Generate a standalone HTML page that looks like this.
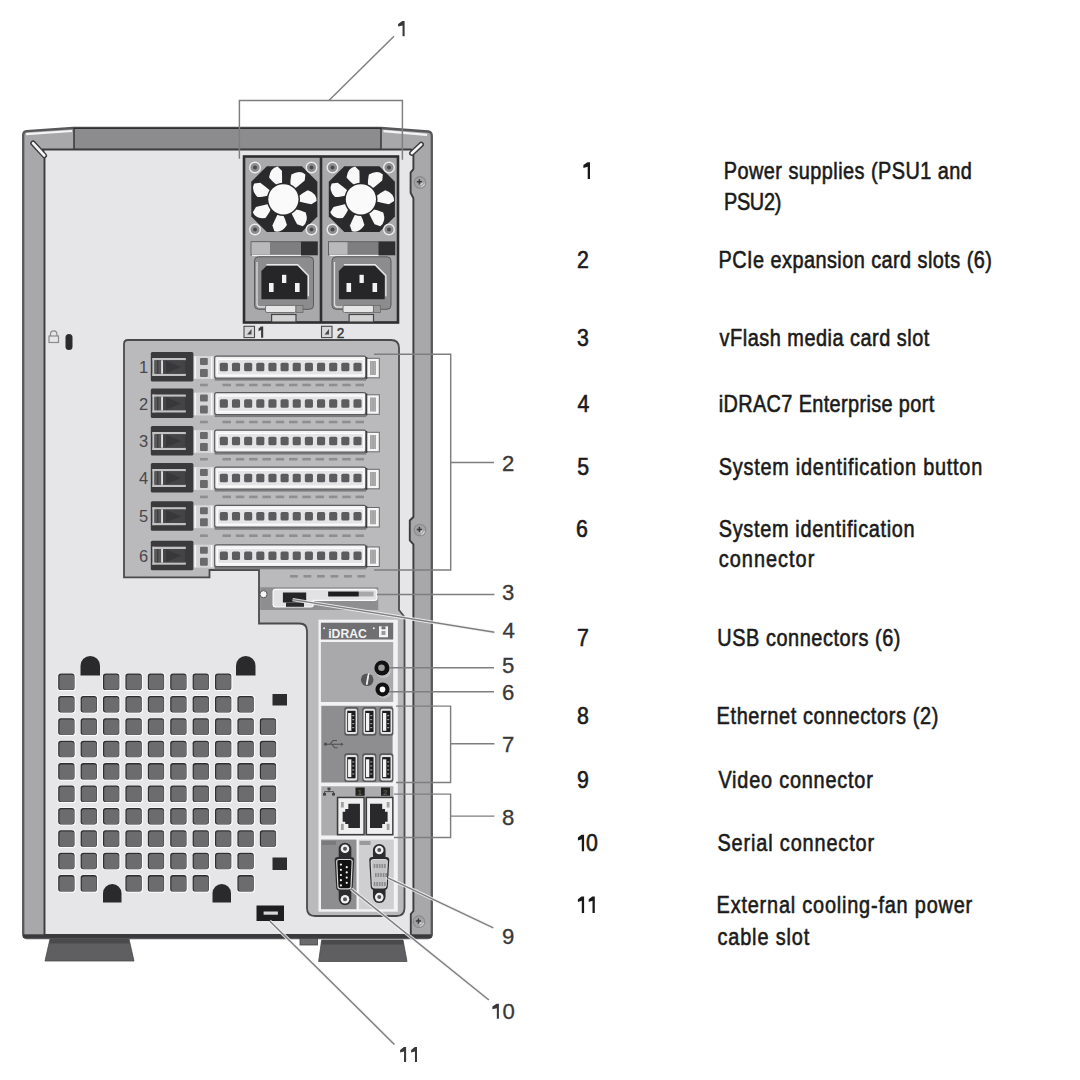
<!DOCTYPE html>
<html><head><meta charset="utf-8"><title>Server back panel</title>
<style>
html,body{margin:0;padding:0;background:#fff;}
svg{display:block;}
</style></head>
<body>
<svg width="1080" height="1080" viewBox="0 0 1080 1080">
<rect width="1080" height="1080" fill="#ffffff"/>
<path d="M23.2,135 Q23.2,131.6 26.6,131.2 L73,128 L381,128 L428,131.5 Q431.8,132 431.8,136 L431.8,934 Q431.8,938 428,938 L26.6,938 Q23.2,938 23.2,934 Z" fill="#a8a8aa" stroke="#58585a" stroke-width="2.3"/>
<rect x="74" y="128.3" width="307" height="21.3" fill="#8c8c8e" stroke="#303032" stroke-width="1.4"/>
<path d="M26,134.2 L72,131" stroke="#f4f4f4" stroke-width="2.2" fill="none"/>
<path d="M383.5,131.2 L427,134.8" stroke="#f4f4f4" stroke-width="2.2" fill="none"/>
<path d="M44.5,935 L44.5,157 L43,149.5 L411,149.5 L413.4,155.3 L413.4,169.2 L410.6,172.6 L410.6,192.8 L413.4,198.3 L413.4,517 L409.8,520.5 L409.8,540.5 L413.4,544.4 L413.4,911 L410.8,914 L410.8,935 Z" fill="#e6e6e8" stroke="#3c3c3e" stroke-width="1.9"/>
<path d="M33,143.2 L44.3,155.5" stroke="#3c3c3e" stroke-width="5.5" stroke-linecap="round"/>
<path d="M33,143.2 L44.3,155.5" stroke="#f6f6f6" stroke-width="2.6" stroke-linecap="round"/>
<path d="M421.2,144.4 L411.8,153.2" stroke="#3c3c3e" stroke-width="5.5" stroke-linecap="round"/>
<path d="M421.2,144.4 L411.8,153.2" stroke="#f6f6f6" stroke-width="2.6" stroke-linecap="round"/>
<rect x="23" y="934.3" width="408.5" height="3.6" fill="#3a3a3c"/>
<circle cx="420" cy="182.4" r="5.8" fill="#a2a2a4" stroke="#8a8a8c" stroke-width="1.1"/>
<path d="M421.2,187.0 A4.8,4.8 0 0 0 424.6,183.6" stroke="#d6d6d8" stroke-width="1.2" fill="none"/>
<path d="M416.8,181.8 L422,181.8 M419.4,179.20000000000002 L419.4,184.4" stroke="#3a3a3c" stroke-width="1.5"/>
<path d="M420.6,184.8 L422.4,183.0" stroke="#e0e0e0" stroke-width="1.1"/>
<circle cx="420" cy="530" r="5.8" fill="#a2a2a4" stroke="#8a8a8c" stroke-width="1.1"/>
<path d="M421.2,534.6 A4.8,4.8 0 0 0 424.6,531.2" stroke="#d6d6d8" stroke-width="1.2" fill="none"/>
<path d="M416.8,529.4 L422,529.4 M419.4,526.8 L419.4,532" stroke="#3a3a3c" stroke-width="1.5"/>
<path d="M420.6,532.4 L422.4,530.6" stroke="#e0e0e0" stroke-width="1.1"/>
<circle cx="419" cy="921.7" r="5.8" fill="#a2a2a4" stroke="#8a8a8c" stroke-width="1.1"/>
<path d="M420.2,926.3000000000001 A4.8,4.8 0 0 0 423.6,922.9000000000001" stroke="#d6d6d8" stroke-width="1.2" fill="none"/>
<path d="M415.8,921.1 L421,921.1 M418.4,918.5 L418.4,923.7" stroke="#3a3a3c" stroke-width="1.5"/>
<path d="M419.6,924.1 L421.4,922.3000000000001" stroke="#e0e0e0" stroke-width="1.1"/>
<path d="M50,939 L129,939 L134,961 L45,961 Z" fill="#5f5f61" stroke="#4a4a4c" stroke-width="0.8"/>
<path d="M321.7,940 L403,940 L407,961.5 L318.6,961.5 Z" fill="#5f5f61" stroke="#4a4a4c" stroke-width="0.8"/>
<rect x="300" y="938.5" width="17.5" height="6.5" fill="#6a6a6c" stroke="#444" stroke-width="0.8"/>
<path d="M50.5,939 L128.5,939 L129.6,943.5 L49.4,943.5 Z" fill="#4a4a4c"/>
<path d="M322,940 L402.7,940 L403.7,944.5 L321.2,944.5 Z" fill="#4a4a4c"/>
<path d="M50.5,336 L50.5,334 A3.2,3.2 0 0 1 56.9,334 L56.9,336" fill="none" stroke="#8a8a8a" stroke-width="1.2"/>
<rect x="49" y="336" width="9.5" height="6.5" fill="none" stroke="#8a8a8a" stroke-width="1.2"/>
<rect x="65.5" y="334" width="7" height="16" rx="3.5" fill="#2c2c2c"/>
<rect x="244" y="156.5" width="154" height="166" fill="#a9a9ab" stroke="#2e2e30" stroke-width="2.6"/>
<line x1="321" y1="156.5" x2="321" y2="322.5" stroke="#2e2e30" stroke-width="2.6"/>
<path d="M266.8,166.3 L301.9,166.3 L317.4,181.8 L317.4,216.5 L301.9,232 L266.8,232 L251.3,216.5 L251.3,181.8 Z" fill="#2a2a2c"/>
<path d="M277.10,185.14 Q273.61,183.01 269.05,177.62 Q270.12,168.00 277.63,166.60 L281.91,170.84 Q282.18,179.34 282.05,183.86 Z" fill="#f8f8f8"/>
<path d="M290.54,185.54 Q290.03,181.50 291.40,174.56 Q299.59,169.40 305.37,174.41 L304.72,180.39 Q298.25,185.90 294.63,188.62 Z" fill="#f8f8f8"/>
<path d="M298.61,196.31 Q301.46,193.38 307.73,190.14 Q316.87,193.31 316.56,200.96 L311.48,204.18 Q303.13,202.55 298.75,201.42 Z" fill="#f8f8f8"/>
<path d="M295.22,209.32 Q299.28,209.73 305.74,212.61 Q308.95,221.74 302.78,226.26 L297.09,224.30 Q293.16,216.76 291.32,212.63 Z" fill="#f8f8f8"/>
<path d="M282.93,214.79 Q285.15,218.22 286.92,225.06 Q281.79,233.26 274.40,231.26 L272.39,225.59 Q275.84,217.81 277.92,213.80 Z" fill="#f8f8f8"/>
<path d="M271.00,208.60 Q269.70,212.46 265.45,218.11 Q255.84,219.21 252.81,212.19 L255.98,207.08 Q264.21,204.93 268.65,204.05 Z" fill="#f8f8f8"/>
<path d="M268.40,195.40 Q264.57,196.79 257.50,197.00 Q250.65,190.17 254.25,183.42 L260.22,182.72 Q267.03,187.81 270.49,190.73 Z" fill="#f8f8f8"/>
<circle cx="283.4" cy="199.3" r="16.6" fill="#2a2a2c"/>
<circle cx="283.4" cy="199.3" r="15.1" fill="#fafafa"/>
<circle cx="255" cy="167.5" r="5.3" fill="#8e8e90" stroke="#ececec" stroke-width="1.4"/>
<circle cx="255" cy="167.5" r="2" fill="#4a4a4c"/>
<circle cx="311.5" cy="167.5" r="5.3" fill="#8e8e90" stroke="#ececec" stroke-width="1.4"/>
<circle cx="311.5" cy="167.5" r="2" fill="#4a4a4c"/>
<circle cx="255" cy="229.5" r="5.3" fill="#8e8e90" stroke="#ececec" stroke-width="1.4"/>
<circle cx="255" cy="229.5" r="2" fill="#4a4a4c"/>
<circle cx="311.5" cy="229.5" r="5.3" fill="#8e8e90" stroke="#ececec" stroke-width="1.4"/>
<circle cx="311.5" cy="229.5" r="2" fill="#4a4a4c"/>
<rect x="251" y="241.7" width="66.5" height="13.3" fill="#7e7e80" stroke="#58585a" stroke-width="0.8"/>
<rect x="251.5" y="242.2" width="18.5" height="12.3" fill="#b9b9bb"/>
<rect x="301" y="241.7" width="16.5" height="13.3" fill="#2e2e30"/>
<line x1="252" y1="255.3" x2="301" y2="255.3" stroke="#f0f0f0" stroke-width="1.2"/>
<rect x="254.5" y="256.8" width="59" height="52.5" rx="4" fill="#8c8c8e" stroke="#5a5a5c" stroke-width="1"/>
<path d="M257,262 L257,304 Q257,307 260,307 L268,307" fill="none" stroke="#dedede" stroke-width="1.3"/>
<path d="M266.4,266 L297.7,266 L307.2,276 L307.2,299.2 L261.4,299.2 L261.4,271 Z" fill="#262628"/>
<path d="M266.4,264.7 L297.7,264.7 L308.4,275.5 L308.4,296.2" fill="none" stroke="#e8e8e8" stroke-width="1.3"/>
<rect x="282" y="274.8" width="4.3" height="8.2" fill="#f2f2f2"/>
<rect x="269" y="283" width="4.6" height="9" fill="#f2f2f2"/>
<rect x="295" y="283" width="4.6" height="9" fill="#f2f2f2"/>
<rect x="265.5" y="305.4" width="30.5" height="7.1" rx="1.5" fill="#e6e6e6" stroke="#6a6a6a" stroke-width="0.9"/>
<rect x="296" y="305.4" width="7" height="7.1" fill="#9a9a9a" stroke="#6a6a6a" stroke-width="0.8"/>
<rect x="271.6" y="314.5" width="24.4" height="7.5" fill="#d2d2d2" stroke="#454545" stroke-width="1.2"/>
<rect x="244" y="326.3" width="10.5" height="11.3" fill="#d8d8da" stroke="#4a4a4c" stroke-width="1.1"/>
<path d="M247,334.5 L251.5,329 L251.5,334.5 Z" fill="#4a4a4c"/>
<path d="M263.20,326.60 L263.20,337.80 L261.10,337.80 L261.10,330.02 L258.60,331.18 L258.60,328.45 L260.90,326.60 Z" fill="#3a3a3c"/>
<path d="M344.3,166.3 L379.4,166.3 L394.9,181.8 L394.9,216.5 L379.4,232 L344.3,232 L328.8,216.5 L328.8,181.8 Z" fill="#2a2a2c"/>
<path d="M354.60,185.14 Q351.11,183.01 346.55,177.62 Q347.62,168.00 355.13,166.60 L359.41,170.84 Q359.68,179.34 359.55,183.86 Z" fill="#f8f8f8"/>
<path d="M368.04,185.54 Q367.53,181.50 368.90,174.56 Q377.09,169.40 382.87,174.41 L382.22,180.39 Q375.75,185.90 372.13,188.62 Z" fill="#f8f8f8"/>
<path d="M376.11,196.31 Q378.96,193.38 385.23,190.14 Q394.37,193.31 394.06,200.96 L388.98,204.18 Q380.63,202.55 376.25,201.42 Z" fill="#f8f8f8"/>
<path d="M372.72,209.32 Q376.78,209.73 383.24,212.61 Q386.45,221.74 380.28,226.26 L374.59,224.30 Q370.66,216.76 368.82,212.63 Z" fill="#f8f8f8"/>
<path d="M360.43,214.79 Q362.65,218.22 364.42,225.06 Q359.29,233.26 351.90,231.26 L349.89,225.59 Q353.34,217.81 355.42,213.80 Z" fill="#f8f8f8"/>
<path d="M348.50,208.60 Q347.20,212.46 342.95,218.11 Q333.34,219.21 330.31,212.19 L333.48,207.08 Q341.71,204.93 346.15,204.05 Z" fill="#f8f8f8"/>
<path d="M345.90,195.40 Q342.07,196.79 335.00,197.00 Q328.15,190.17 331.75,183.42 L337.72,182.72 Q344.53,187.81 347.99,190.73 Z" fill="#f8f8f8"/>
<circle cx="360.9" cy="199.3" r="16.6" fill="#2a2a2c"/>
<circle cx="360.9" cy="199.3" r="15.1" fill="#fafafa"/>
<circle cx="332.5" cy="167.5" r="5.3" fill="#8e8e90" stroke="#ececec" stroke-width="1.4"/>
<circle cx="332.5" cy="167.5" r="2" fill="#4a4a4c"/>
<circle cx="389.0" cy="167.5" r="5.3" fill="#8e8e90" stroke="#ececec" stroke-width="1.4"/>
<circle cx="389.0" cy="167.5" r="2" fill="#4a4a4c"/>
<circle cx="332.5" cy="229.5" r="5.3" fill="#8e8e90" stroke="#ececec" stroke-width="1.4"/>
<circle cx="332.5" cy="229.5" r="2" fill="#4a4a4c"/>
<circle cx="389.0" cy="229.5" r="5.3" fill="#8e8e90" stroke="#ececec" stroke-width="1.4"/>
<circle cx="389.0" cy="229.5" r="2" fill="#4a4a4c"/>
<rect x="328.5" y="241.7" width="66.5" height="13.3" fill="#7e7e80" stroke="#58585a" stroke-width="0.8"/>
<rect x="329.0" y="242.2" width="18.5" height="12.3" fill="#b9b9bb"/>
<rect x="378.5" y="241.7" width="16.5" height="13.3" fill="#2e2e30"/>
<line x1="329.5" y1="255.3" x2="378.5" y2="255.3" stroke="#f0f0f0" stroke-width="1.2"/>
<rect x="332.0" y="256.8" width="59" height="52.5" rx="4" fill="#8c8c8e" stroke="#5a5a5c" stroke-width="1"/>
<path d="M334.5,262 L334.5,304 Q334.5,307 337.5,307 L345.5,307" fill="none" stroke="#dedede" stroke-width="1.3"/>
<path d="M343.9,266 L375.2,266 L384.7,276 L384.7,299.2 L338.9,299.2 L338.9,271 Z" fill="#262628"/>
<path d="M343.9,264.7 L375.2,264.7 L385.9,275.5 L385.9,296.2" fill="none" stroke="#e8e8e8" stroke-width="1.3"/>
<rect x="359.5" y="274.8" width="4.3" height="8.2" fill="#f2f2f2"/>
<rect x="346.5" y="283" width="4.6" height="9" fill="#f2f2f2"/>
<rect x="372.5" y="283" width="4.6" height="9" fill="#f2f2f2"/>
<rect x="343.0" y="305.4" width="30.5" height="7.1" rx="1.5" fill="#e6e6e6" stroke="#6a6a6a" stroke-width="0.9"/>
<rect x="373.5" y="305.4" width="7" height="7.1" fill="#9a9a9a" stroke="#6a6a6a" stroke-width="0.8"/>
<rect x="349.1" y="314.5" width="24.4" height="7.5" fill="#d2d2d2" stroke="#454545" stroke-width="1.2"/>
<rect x="321.5" y="326.3" width="10.5" height="11.3" fill="#d8d8da" stroke="#4a4a4c" stroke-width="1.1"/>
<path d="M324.5,334.5 L329.0,329 L329.0,334.5 Z" fill="#4a4a4c"/>
<text x="336.8" y="337.8" font-family='"Liberation Sans", sans-serif' font-size="15.5" fill="#3a3a3c" stroke="#3a3a3c" stroke-width="0.5" transform="translate(336.8 0) scale(0.88 1) translate(-336.8 0)">2</text>
<path d="M124,344 Q124,340 128,340 L391,340 Q399,340 399,348 L399,610 L404.5,617 L404.5,908 Q404.5,916 396.5,916 L315,916 Q307,916 307,908 L307,631 Q307,623.5 299.5,623.5 L259,623.5 L259,570 L209.5,570 L209.5,577.3 L124,577.3 Z" fill="#bababc" stroke="#4a4a4c" stroke-width="1.8"/>
<text x="139" y="373" font-family='"Liberation Sans", sans-serif' font-size="16.5" fill="#48484a">1</text>
<rect x="150.8" y="352" width="42.6" height="29.5" rx="1.5" fill="#3a3a3c"/>
<rect x="152.4" y="358" width="33.4" height="2.3" fill="#c2c2c4"/>
<rect x="152.4" y="373.7" width="33.4" height="2.3" fill="#c2c2c4"/>
<rect x="152.4" y="358" width="2" height="18" fill="#c2c2c4"/>
<rect x="154.7" y="360.3" width="6.2" height="13.4" fill="#58585a"/>
<line x1="157.8" y1="360.3" x2="157.8" y2="373.7" stroke="#38383a" stroke-width="1"/>
<rect x="161.1" y="360.3" width="1.9" height="13.4" fill="#dedede"/>
<rect x="163" y="360.3" width="22" height="13.4" fill="#444446"/>
<path d="M166,360.8 L181,367 L166,373.2 Z" fill="#38383a"/>
<rect x="193.8" y="356" width="20" height="23" fill="#d6d6d8"/>
<line x1="195.3" y1="356.5" x2="195.3" y2="378.5" stroke="#f6f6f6" stroke-width="1.5"/>
<line x1="211.6" y1="356.5" x2="211.6" y2="378.5" stroke="#f6f6f6" stroke-width="1.5"/>
<rect x="200" y="358" width="7.8" height="7" rx="1" fill="#6a6a6c"/>
<rect x="200" y="369" width="7.8" height="8" rx="1" fill="#6a6a6c"/>
<rect x="214.7" y="378" width="151.5" height="2.6" fill="#7c7c7e"/>
<rect x="214.7" y="356.2" width="151.2" height="21.8" rx="2" fill="#f2f2f2" stroke="#5a5a5c" stroke-width="1.2"/>
<rect x="217.5" y="359.5" width="146" height="15.5" rx="1.5" fill="#e4e4e6" stroke="#ffffff" stroke-width="1"/>
<rect x="219.80" y="362.8" width="8.1" height="8.5" rx="1.5" fill="#5c5c5e"/>
<rect x="231.95" y="362.8" width="8.1" height="8.5" rx="1.5" fill="#5c5c5e"/>
<rect x="244.10" y="362.8" width="8.1" height="8.5" rx="1.5" fill="#5c5c5e"/>
<rect x="256.25" y="362.8" width="8.1" height="8.5" rx="1.5" fill="#5c5c5e"/>
<rect x="268.40" y="362.8" width="8.1" height="8.5" rx="1.5" fill="#5c5c5e"/>
<rect x="280.55" y="362.8" width="8.1" height="8.5" rx="1.5" fill="#5c5c5e"/>
<rect x="292.70" y="362.8" width="8.1" height="8.5" rx="1.5" fill="#5c5c5e"/>
<rect x="304.85" y="362.8" width="8.1" height="8.5" rx="1.5" fill="#5c5c5e"/>
<rect x="317.00" y="362.8" width="8.1" height="8.5" rx="1.5" fill="#5c5c5e"/>
<rect x="329.15" y="362.8" width="8.1" height="8.5" rx="1.5" fill="#5c5c5e"/>
<rect x="341.30" y="362.8" width="8.1" height="8.5" rx="1.5" fill="#5c5c5e"/>
<rect x="353.45" y="362.8" width="8.1" height="8.5" rx="1.5" fill="#5c5c5e"/>
<rect x="366.5" y="358.3" width="12.8" height="19.5" fill="#f6f6f6" stroke="#6a6a6c" stroke-width="1"/>
<rect x="370" y="361" width="6" height="14" fill="#bdbdbd"/>
<line x1="370.7" y1="361" x2="370.7" y2="375" stroke="#8a8a8a" stroke-width="0.6"/>
<line x1="372.2" y1="361" x2="372.2" y2="375" stroke="#8a8a8a" stroke-width="0.6"/>
<line x1="373.7" y1="361" x2="373.7" y2="375" stroke="#8a8a8a" stroke-width="0.6"/>
<line x1="375.2" y1="361" x2="375.2" y2="375" stroke="#8a8a8a" stroke-width="0.6"/>
<line x1="366.5" y1="357" x2="366.5" y2="379" stroke="#3e3e3e" stroke-width="1.6"/>
<rect x="200" y="383.7" width="7.8" height="2.6" fill="#8e8e90"/>
<rect x="222.5" y="383.7" width="8.5" height="2.6" fill="#8e8e90"/>
<rect x="235.8" y="383.7" width="8.5" height="2.6" fill="#8e8e90"/>
<rect x="249.1" y="383.7" width="8.5" height="2.6" fill="#8e8e90"/>
<rect x="262.4" y="383.7" width="8.5" height="2.6" fill="#8e8e90"/>
<rect x="275.7" y="383.7" width="8.5" height="2.6" fill="#8e8e90"/>
<rect x="289.0" y="383.7" width="8.5" height="2.6" fill="#8e8e90"/>
<rect x="302.3" y="383.7" width="8.5" height="2.6" fill="#8e8e90"/>
<rect x="315.6" y="383.7" width="8.5" height="2.6" fill="#8e8e90"/>
<rect x="328.9" y="383.7" width="8.5" height="2.6" fill="#8e8e90"/>
<rect x="342.2" y="383.7" width="8.5" height="2.6" fill="#8e8e90"/>
<rect x="355.5" y="383.7" width="8.5" height="2.6" fill="#8e8e90"/>
<text x="139" y="409.5" font-family='"Liberation Sans", sans-serif' font-size="16.5" fill="#48484a">2</text>
<rect x="150.8" y="388.5" width="42.6" height="29.5" rx="1.5" fill="#3a3a3c"/>
<rect x="152.4" y="394.5" width="33.4" height="2.3" fill="#c2c2c4"/>
<rect x="152.4" y="410.2" width="33.4" height="2.3" fill="#c2c2c4"/>
<rect x="152.4" y="394.5" width="2" height="18" fill="#c2c2c4"/>
<rect x="154.7" y="396.8" width="6.2" height="13.4" fill="#58585a"/>
<line x1="157.8" y1="396.8" x2="157.8" y2="410.2" stroke="#38383a" stroke-width="1"/>
<rect x="161.1" y="396.8" width="1.9" height="13.4" fill="#dedede"/>
<rect x="163" y="396.8" width="22" height="13.4" fill="#444446"/>
<path d="M166,397.3 L181,403.5 L166,409.7 Z" fill="#38383a"/>
<rect x="193.8" y="392.5" width="20" height="23" fill="#d6d6d8"/>
<line x1="195.3" y1="393.0" x2="195.3" y2="415.0" stroke="#f6f6f6" stroke-width="1.5"/>
<line x1="211.6" y1="393.0" x2="211.6" y2="415.0" stroke="#f6f6f6" stroke-width="1.5"/>
<rect x="200" y="394.5" width="7.8" height="7" rx="1" fill="#6a6a6c"/>
<rect x="200" y="405.5" width="7.8" height="8" rx="1" fill="#6a6a6c"/>
<rect x="214.7" y="414.5" width="151.5" height="2.6" fill="#7c7c7e"/>
<rect x="214.7" y="392.7" width="151.2" height="21.8" rx="2" fill="#f2f2f2" stroke="#5a5a5c" stroke-width="1.2"/>
<rect x="217.5" y="396.0" width="146" height="15.5" rx="1.5" fill="#e4e4e6" stroke="#ffffff" stroke-width="1"/>
<rect x="219.80" y="399.3" width="8.1" height="8.5" rx="1.5" fill="#5c5c5e"/>
<rect x="231.95" y="399.3" width="8.1" height="8.5" rx="1.5" fill="#5c5c5e"/>
<rect x="244.10" y="399.3" width="8.1" height="8.5" rx="1.5" fill="#5c5c5e"/>
<rect x="256.25" y="399.3" width="8.1" height="8.5" rx="1.5" fill="#5c5c5e"/>
<rect x="268.40" y="399.3" width="8.1" height="8.5" rx="1.5" fill="#5c5c5e"/>
<rect x="280.55" y="399.3" width="8.1" height="8.5" rx="1.5" fill="#5c5c5e"/>
<rect x="292.70" y="399.3" width="8.1" height="8.5" rx="1.5" fill="#5c5c5e"/>
<rect x="304.85" y="399.3" width="8.1" height="8.5" rx="1.5" fill="#5c5c5e"/>
<rect x="317.00" y="399.3" width="8.1" height="8.5" rx="1.5" fill="#5c5c5e"/>
<rect x="329.15" y="399.3" width="8.1" height="8.5" rx="1.5" fill="#5c5c5e"/>
<rect x="341.30" y="399.3" width="8.1" height="8.5" rx="1.5" fill="#5c5c5e"/>
<rect x="353.45" y="399.3" width="8.1" height="8.5" rx="1.5" fill="#5c5c5e"/>
<rect x="366.5" y="394.8" width="12.8" height="19.5" fill="#f6f6f6" stroke="#6a6a6c" stroke-width="1"/>
<rect x="370" y="397.5" width="6" height="14" fill="#bdbdbd"/>
<line x1="370.7" y1="397.5" x2="370.7" y2="411.5" stroke="#8a8a8a" stroke-width="0.6"/>
<line x1="372.2" y1="397.5" x2="372.2" y2="411.5" stroke="#8a8a8a" stroke-width="0.6"/>
<line x1="373.7" y1="397.5" x2="373.7" y2="411.5" stroke="#8a8a8a" stroke-width="0.6"/>
<line x1="375.2" y1="397.5" x2="375.2" y2="411.5" stroke="#8a8a8a" stroke-width="0.6"/>
<line x1="366.5" y1="393.5" x2="366.5" y2="415.5" stroke="#3e3e3e" stroke-width="1.6"/>
<rect x="200" y="420.7" width="7.8" height="2.6" fill="#8e8e90"/>
<rect x="222.5" y="420.7" width="8.5" height="2.6" fill="#8e8e90"/>
<rect x="235.8" y="420.7" width="8.5" height="2.6" fill="#8e8e90"/>
<rect x="249.1" y="420.7" width="8.5" height="2.6" fill="#8e8e90"/>
<rect x="262.4" y="420.7" width="8.5" height="2.6" fill="#8e8e90"/>
<rect x="275.7" y="420.7" width="8.5" height="2.6" fill="#8e8e90"/>
<rect x="289.0" y="420.7" width="8.5" height="2.6" fill="#8e8e90"/>
<rect x="302.3" y="420.7" width="8.5" height="2.6" fill="#8e8e90"/>
<rect x="315.6" y="420.7" width="8.5" height="2.6" fill="#8e8e90"/>
<rect x="328.9" y="420.7" width="8.5" height="2.6" fill="#8e8e90"/>
<rect x="342.2" y="420.7" width="8.5" height="2.6" fill="#8e8e90"/>
<rect x="355.5" y="420.7" width="8.5" height="2.6" fill="#8e8e90"/>
<text x="139" y="447" font-family='"Liberation Sans", sans-serif' font-size="16.5" fill="#48484a">3</text>
<rect x="150.8" y="426" width="42.6" height="29.5" rx="1.5" fill="#3a3a3c"/>
<rect x="152.4" y="432" width="33.4" height="2.3" fill="#c2c2c4"/>
<rect x="152.4" y="447.7" width="33.4" height="2.3" fill="#c2c2c4"/>
<rect x="152.4" y="432" width="2" height="18" fill="#c2c2c4"/>
<rect x="154.7" y="434.3" width="6.2" height="13.4" fill="#58585a"/>
<line x1="157.8" y1="434.3" x2="157.8" y2="447.7" stroke="#38383a" stroke-width="1"/>
<rect x="161.1" y="434.3" width="1.9" height="13.4" fill="#dedede"/>
<rect x="163" y="434.3" width="22" height="13.4" fill="#444446"/>
<path d="M166,434.8 L181,441 L166,447.2 Z" fill="#38383a"/>
<rect x="193.8" y="430" width="20" height="23" fill="#d6d6d8"/>
<line x1="195.3" y1="430.5" x2="195.3" y2="452.5" stroke="#f6f6f6" stroke-width="1.5"/>
<line x1="211.6" y1="430.5" x2="211.6" y2="452.5" stroke="#f6f6f6" stroke-width="1.5"/>
<rect x="200" y="432" width="7.8" height="7" rx="1" fill="#6a6a6c"/>
<rect x="200" y="443" width="7.8" height="8" rx="1" fill="#6a6a6c"/>
<rect x="214.7" y="452" width="151.5" height="2.6" fill="#7c7c7e"/>
<rect x="214.7" y="430.2" width="151.2" height="21.8" rx="2" fill="#f2f2f2" stroke="#5a5a5c" stroke-width="1.2"/>
<rect x="217.5" y="433.5" width="146" height="15.5" rx="1.5" fill="#e4e4e6" stroke="#ffffff" stroke-width="1"/>
<rect x="219.80" y="436.8" width="8.1" height="8.5" rx="1.5" fill="#5c5c5e"/>
<rect x="231.95" y="436.8" width="8.1" height="8.5" rx="1.5" fill="#5c5c5e"/>
<rect x="244.10" y="436.8" width="8.1" height="8.5" rx="1.5" fill="#5c5c5e"/>
<rect x="256.25" y="436.8" width="8.1" height="8.5" rx="1.5" fill="#5c5c5e"/>
<rect x="268.40" y="436.8" width="8.1" height="8.5" rx="1.5" fill="#5c5c5e"/>
<rect x="280.55" y="436.8" width="8.1" height="8.5" rx="1.5" fill="#5c5c5e"/>
<rect x="292.70" y="436.8" width="8.1" height="8.5" rx="1.5" fill="#5c5c5e"/>
<rect x="304.85" y="436.8" width="8.1" height="8.5" rx="1.5" fill="#5c5c5e"/>
<rect x="317.00" y="436.8" width="8.1" height="8.5" rx="1.5" fill="#5c5c5e"/>
<rect x="329.15" y="436.8" width="8.1" height="8.5" rx="1.5" fill="#5c5c5e"/>
<rect x="341.30" y="436.8" width="8.1" height="8.5" rx="1.5" fill="#5c5c5e"/>
<rect x="353.45" y="436.8" width="8.1" height="8.5" rx="1.5" fill="#5c5c5e"/>
<rect x="366.5" y="432.3" width="12.8" height="19.5" fill="#f6f6f6" stroke="#6a6a6c" stroke-width="1"/>
<rect x="370" y="435" width="6" height="14" fill="#bdbdbd"/>
<line x1="370.7" y1="435" x2="370.7" y2="449" stroke="#8a8a8a" stroke-width="0.6"/>
<line x1="372.2" y1="435" x2="372.2" y2="449" stroke="#8a8a8a" stroke-width="0.6"/>
<line x1="373.7" y1="435" x2="373.7" y2="449" stroke="#8a8a8a" stroke-width="0.6"/>
<line x1="375.2" y1="435" x2="375.2" y2="449" stroke="#8a8a8a" stroke-width="0.6"/>
<line x1="366.5" y1="431" x2="366.5" y2="453" stroke="#3e3e3e" stroke-width="1.6"/>
<rect x="200" y="457.9" width="7.8" height="2.6" fill="#8e8e90"/>
<rect x="222.5" y="457.9" width="8.5" height="2.6" fill="#8e8e90"/>
<rect x="235.8" y="457.9" width="8.5" height="2.6" fill="#8e8e90"/>
<rect x="249.1" y="457.9" width="8.5" height="2.6" fill="#8e8e90"/>
<rect x="262.4" y="457.9" width="8.5" height="2.6" fill="#8e8e90"/>
<rect x="275.7" y="457.9" width="8.5" height="2.6" fill="#8e8e90"/>
<rect x="289.0" y="457.9" width="8.5" height="2.6" fill="#8e8e90"/>
<rect x="302.3" y="457.9" width="8.5" height="2.6" fill="#8e8e90"/>
<rect x="315.6" y="457.9" width="8.5" height="2.6" fill="#8e8e90"/>
<rect x="328.9" y="457.9" width="8.5" height="2.6" fill="#8e8e90"/>
<rect x="342.2" y="457.9" width="8.5" height="2.6" fill="#8e8e90"/>
<rect x="355.5" y="457.9" width="8.5" height="2.6" fill="#8e8e90"/>
<text x="139" y="484" font-family='"Liberation Sans", sans-serif' font-size="16.5" fill="#48484a">4</text>
<rect x="150.8" y="463" width="42.6" height="29.5" rx="1.5" fill="#3a3a3c"/>
<rect x="152.4" y="469" width="33.4" height="2.3" fill="#c2c2c4"/>
<rect x="152.4" y="484.7" width="33.4" height="2.3" fill="#c2c2c4"/>
<rect x="152.4" y="469" width="2" height="18" fill="#c2c2c4"/>
<rect x="154.7" y="471.3" width="6.2" height="13.4" fill="#58585a"/>
<line x1="157.8" y1="471.3" x2="157.8" y2="484.7" stroke="#38383a" stroke-width="1"/>
<rect x="161.1" y="471.3" width="1.9" height="13.4" fill="#dedede"/>
<rect x="163" y="471.3" width="22" height="13.4" fill="#444446"/>
<path d="M166,471.8 L181,478 L166,484.2 Z" fill="#38383a"/>
<rect x="193.8" y="467" width="20" height="23" fill="#d6d6d8"/>
<line x1="195.3" y1="467.5" x2="195.3" y2="489.5" stroke="#f6f6f6" stroke-width="1.5"/>
<line x1="211.6" y1="467.5" x2="211.6" y2="489.5" stroke="#f6f6f6" stroke-width="1.5"/>
<rect x="200" y="469" width="7.8" height="7" rx="1" fill="#6a6a6c"/>
<rect x="200" y="480" width="7.8" height="8" rx="1" fill="#6a6a6c"/>
<rect x="214.7" y="489" width="151.5" height="2.6" fill="#7c7c7e"/>
<rect x="214.7" y="467.2" width="151.2" height="21.8" rx="2" fill="#f2f2f2" stroke="#5a5a5c" stroke-width="1.2"/>
<rect x="217.5" y="470.5" width="146" height="15.5" rx="1.5" fill="#e4e4e6" stroke="#ffffff" stroke-width="1"/>
<rect x="219.80" y="473.8" width="8.1" height="8.5" rx="1.5" fill="#5c5c5e"/>
<rect x="231.95" y="473.8" width="8.1" height="8.5" rx="1.5" fill="#5c5c5e"/>
<rect x="244.10" y="473.8" width="8.1" height="8.5" rx="1.5" fill="#5c5c5e"/>
<rect x="256.25" y="473.8" width="8.1" height="8.5" rx="1.5" fill="#5c5c5e"/>
<rect x="268.40" y="473.8" width="8.1" height="8.5" rx="1.5" fill="#5c5c5e"/>
<rect x="280.55" y="473.8" width="8.1" height="8.5" rx="1.5" fill="#5c5c5e"/>
<rect x="292.70" y="473.8" width="8.1" height="8.5" rx="1.5" fill="#5c5c5e"/>
<rect x="304.85" y="473.8" width="8.1" height="8.5" rx="1.5" fill="#5c5c5e"/>
<rect x="317.00" y="473.8" width="8.1" height="8.5" rx="1.5" fill="#5c5c5e"/>
<rect x="329.15" y="473.8" width="8.1" height="8.5" rx="1.5" fill="#5c5c5e"/>
<rect x="341.30" y="473.8" width="8.1" height="8.5" rx="1.5" fill="#5c5c5e"/>
<rect x="353.45" y="473.8" width="8.1" height="8.5" rx="1.5" fill="#5c5c5e"/>
<rect x="366.5" y="469.3" width="12.8" height="19.5" fill="#f6f6f6" stroke="#6a6a6c" stroke-width="1"/>
<rect x="370" y="472" width="6" height="14" fill="#bdbdbd"/>
<line x1="370.7" y1="472" x2="370.7" y2="486" stroke="#8a8a8a" stroke-width="0.6"/>
<line x1="372.2" y1="472" x2="372.2" y2="486" stroke="#8a8a8a" stroke-width="0.6"/>
<line x1="373.7" y1="472" x2="373.7" y2="486" stroke="#8a8a8a" stroke-width="0.6"/>
<line x1="375.2" y1="472" x2="375.2" y2="486" stroke="#8a8a8a" stroke-width="0.6"/>
<line x1="366.5" y1="468" x2="366.5" y2="490" stroke="#3e3e3e" stroke-width="1.6"/>
<rect x="200" y="495.6" width="7.8" height="2.6" fill="#8e8e90"/>
<rect x="222.5" y="495.6" width="8.5" height="2.6" fill="#8e8e90"/>
<rect x="235.8" y="495.6" width="8.5" height="2.6" fill="#8e8e90"/>
<rect x="249.1" y="495.6" width="8.5" height="2.6" fill="#8e8e90"/>
<rect x="262.4" y="495.6" width="8.5" height="2.6" fill="#8e8e90"/>
<rect x="275.7" y="495.6" width="8.5" height="2.6" fill="#8e8e90"/>
<rect x="289.0" y="495.6" width="8.5" height="2.6" fill="#8e8e90"/>
<rect x="302.3" y="495.6" width="8.5" height="2.6" fill="#8e8e90"/>
<rect x="315.6" y="495.6" width="8.5" height="2.6" fill="#8e8e90"/>
<rect x="328.9" y="495.6" width="8.5" height="2.6" fill="#8e8e90"/>
<rect x="342.2" y="495.6" width="8.5" height="2.6" fill="#8e8e90"/>
<rect x="355.5" y="495.6" width="8.5" height="2.6" fill="#8e8e90"/>
<text x="139" y="522.2" font-family='"Liberation Sans", sans-serif' font-size="16.5" fill="#48484a">5</text>
<rect x="150.8" y="501.2" width="42.6" height="29.5" rx="1.5" fill="#3a3a3c"/>
<rect x="152.4" y="507.2" width="33.4" height="2.3" fill="#c2c2c4"/>
<rect x="152.4" y="522.9" width="33.4" height="2.3" fill="#c2c2c4"/>
<rect x="152.4" y="507.2" width="2" height="18" fill="#c2c2c4"/>
<rect x="154.7" y="509.5" width="6.2" height="13.4" fill="#58585a"/>
<line x1="157.8" y1="509.5" x2="157.8" y2="522.9" stroke="#38383a" stroke-width="1"/>
<rect x="161.1" y="509.5" width="1.9" height="13.4" fill="#dedede"/>
<rect x="163" y="509.5" width="22" height="13.4" fill="#444446"/>
<path d="M166,510.0 L181,516.2 L166,522.4 Z" fill="#38383a"/>
<rect x="193.8" y="505.2" width="20" height="23" fill="#d6d6d8"/>
<line x1="195.3" y1="505.7" x2="195.3" y2="527.7" stroke="#f6f6f6" stroke-width="1.5"/>
<line x1="211.6" y1="505.7" x2="211.6" y2="527.7" stroke="#f6f6f6" stroke-width="1.5"/>
<rect x="200" y="507.2" width="7.8" height="7" rx="1" fill="#6a6a6c"/>
<rect x="200" y="518.2" width="7.8" height="8" rx="1" fill="#6a6a6c"/>
<rect x="214.7" y="527.2" width="151.5" height="2.6" fill="#7c7c7e"/>
<rect x="214.7" y="505.4" width="151.2" height="21.8" rx="2" fill="#f2f2f2" stroke="#5a5a5c" stroke-width="1.2"/>
<rect x="217.5" y="508.7" width="146" height="15.5" rx="1.5" fill="#e4e4e6" stroke="#ffffff" stroke-width="1"/>
<rect x="219.80" y="512.0" width="8.1" height="8.5" rx="1.5" fill="#5c5c5e"/>
<rect x="231.95" y="512.0" width="8.1" height="8.5" rx="1.5" fill="#5c5c5e"/>
<rect x="244.10" y="512.0" width="8.1" height="8.5" rx="1.5" fill="#5c5c5e"/>
<rect x="256.25" y="512.0" width="8.1" height="8.5" rx="1.5" fill="#5c5c5e"/>
<rect x="268.40" y="512.0" width="8.1" height="8.5" rx="1.5" fill="#5c5c5e"/>
<rect x="280.55" y="512.0" width="8.1" height="8.5" rx="1.5" fill="#5c5c5e"/>
<rect x="292.70" y="512.0" width="8.1" height="8.5" rx="1.5" fill="#5c5c5e"/>
<rect x="304.85" y="512.0" width="8.1" height="8.5" rx="1.5" fill="#5c5c5e"/>
<rect x="317.00" y="512.0" width="8.1" height="8.5" rx="1.5" fill="#5c5c5e"/>
<rect x="329.15" y="512.0" width="8.1" height="8.5" rx="1.5" fill="#5c5c5e"/>
<rect x="341.30" y="512.0" width="8.1" height="8.5" rx="1.5" fill="#5c5c5e"/>
<rect x="353.45" y="512.0" width="8.1" height="8.5" rx="1.5" fill="#5c5c5e"/>
<rect x="366.5" y="507.5" width="12.8" height="19.5" fill="#f6f6f6" stroke="#6a6a6c" stroke-width="1"/>
<rect x="370" y="510.2" width="6" height="14" fill="#bdbdbd"/>
<line x1="370.7" y1="510.2" x2="370.7" y2="524.2" stroke="#8a8a8a" stroke-width="0.6"/>
<line x1="372.2" y1="510.2" x2="372.2" y2="524.2" stroke="#8a8a8a" stroke-width="0.6"/>
<line x1="373.7" y1="510.2" x2="373.7" y2="524.2" stroke="#8a8a8a" stroke-width="0.6"/>
<line x1="375.2" y1="510.2" x2="375.2" y2="524.2" stroke="#8a8a8a" stroke-width="0.6"/>
<line x1="366.5" y1="506.2" x2="366.5" y2="528.2" stroke="#3e3e3e" stroke-width="1.6"/>
<rect x="200" y="534.4" width="7.8" height="2.6" fill="#8e8e90"/>
<rect x="222.5" y="534.4" width="8.5" height="2.6" fill="#8e8e90"/>
<rect x="235.8" y="534.4" width="8.5" height="2.6" fill="#8e8e90"/>
<rect x="249.1" y="534.4" width="8.5" height="2.6" fill="#8e8e90"/>
<rect x="262.4" y="534.4" width="8.5" height="2.6" fill="#8e8e90"/>
<rect x="275.7" y="534.4" width="8.5" height="2.6" fill="#8e8e90"/>
<rect x="289.0" y="534.4" width="8.5" height="2.6" fill="#8e8e90"/>
<rect x="302.3" y="534.4" width="8.5" height="2.6" fill="#8e8e90"/>
<rect x="315.6" y="534.4" width="8.5" height="2.6" fill="#8e8e90"/>
<rect x="328.9" y="534.4" width="8.5" height="2.6" fill="#8e8e90"/>
<rect x="342.2" y="534.4" width="8.5" height="2.6" fill="#8e8e90"/>
<rect x="355.5" y="534.4" width="8.5" height="2.6" fill="#8e8e90"/>
<text x="139" y="561.7" font-family='"Liberation Sans", sans-serif' font-size="16.5" fill="#48484a">6</text>
<rect x="150.8" y="540.7" width="42.6" height="29.5" rx="1.5" fill="#3a3a3c"/>
<rect x="152.4" y="546.7" width="33.4" height="2.3" fill="#c2c2c4"/>
<rect x="152.4" y="562.4000000000001" width="33.4" height="2.3" fill="#c2c2c4"/>
<rect x="152.4" y="546.7" width="2" height="18" fill="#c2c2c4"/>
<rect x="154.7" y="549.0" width="6.2" height="13.4" fill="#58585a"/>
<line x1="157.8" y1="549.0" x2="157.8" y2="562.4000000000001" stroke="#38383a" stroke-width="1"/>
<rect x="161.1" y="549.0" width="1.9" height="13.4" fill="#dedede"/>
<rect x="163" y="549.0" width="22" height="13.4" fill="#444446"/>
<path d="M166,549.5 L181,555.7 L166,561.9000000000001 Z" fill="#38383a"/>
<rect x="193.8" y="544.7" width="20" height="23" fill="#d6d6d8"/>
<line x1="195.3" y1="545.2" x2="195.3" y2="567.2" stroke="#f6f6f6" stroke-width="1.5"/>
<line x1="211.6" y1="545.2" x2="211.6" y2="567.2" stroke="#f6f6f6" stroke-width="1.5"/>
<rect x="200" y="546.7" width="7.8" height="7" rx="1" fill="#6a6a6c"/>
<rect x="200" y="557.7" width="7.8" height="8" rx="1" fill="#6a6a6c"/>
<rect x="214.7" y="566.7" width="151.5" height="2.6" fill="#7c7c7e"/>
<rect x="214.7" y="544.9000000000001" width="151.2" height="21.8" rx="2" fill="#f2f2f2" stroke="#5a5a5c" stroke-width="1.2"/>
<rect x="217.5" y="548.2" width="146" height="15.5" rx="1.5" fill="#e4e4e6" stroke="#ffffff" stroke-width="1"/>
<rect x="219.80" y="551.5" width="8.1" height="8.5" rx="1.5" fill="#5c5c5e"/>
<rect x="231.95" y="551.5" width="8.1" height="8.5" rx="1.5" fill="#5c5c5e"/>
<rect x="244.10" y="551.5" width="8.1" height="8.5" rx="1.5" fill="#5c5c5e"/>
<rect x="256.25" y="551.5" width="8.1" height="8.5" rx="1.5" fill="#5c5c5e"/>
<rect x="268.40" y="551.5" width="8.1" height="8.5" rx="1.5" fill="#5c5c5e"/>
<rect x="280.55" y="551.5" width="8.1" height="8.5" rx="1.5" fill="#5c5c5e"/>
<rect x="292.70" y="551.5" width="8.1" height="8.5" rx="1.5" fill="#5c5c5e"/>
<rect x="304.85" y="551.5" width="8.1" height="8.5" rx="1.5" fill="#5c5c5e"/>
<rect x="317.00" y="551.5" width="8.1" height="8.5" rx="1.5" fill="#5c5c5e"/>
<rect x="329.15" y="551.5" width="8.1" height="8.5" rx="1.5" fill="#5c5c5e"/>
<rect x="341.30" y="551.5" width="8.1" height="8.5" rx="1.5" fill="#5c5c5e"/>
<rect x="353.45" y="551.5" width="8.1" height="8.5" rx="1.5" fill="#5c5c5e"/>
<rect x="366.5" y="547.0" width="12.8" height="19.5" fill="#f6f6f6" stroke="#6a6a6c" stroke-width="1"/>
<rect x="370" y="549.7" width="6" height="14" fill="#bdbdbd"/>
<line x1="370.7" y1="549.7" x2="370.7" y2="563.7" stroke="#8a8a8a" stroke-width="0.6"/>
<line x1="372.2" y1="549.7" x2="372.2" y2="563.7" stroke="#8a8a8a" stroke-width="0.6"/>
<line x1="373.7" y1="549.7" x2="373.7" y2="563.7" stroke="#8a8a8a" stroke-width="0.6"/>
<line x1="375.2" y1="549.7" x2="375.2" y2="563.7" stroke="#8a8a8a" stroke-width="0.6"/>
<line x1="366.5" y1="545.7" x2="366.5" y2="567.7" stroke="#3e3e3e" stroke-width="1.6"/>
<rect x="290.0" y="575" width="7.8" height="2.6" fill="#8e8e90"/>
<rect x="303.5" y="575" width="7.8" height="2.6" fill="#8e8e90"/>
<rect x="317.0" y="575" width="7.8" height="2.6" fill="#8e8e90"/>
<rect x="330.5" y="575" width="7.8" height="2.6" fill="#8e8e90"/>
<rect x="344.0" y="575" width="7.8" height="2.6" fill="#8e8e90"/>
<rect x="357.5" y="575" width="7.8" height="2.6" fill="#8e8e90"/>
<rect x="260.2" y="587.3" width="118" height="22.7" fill="#8e8e90"/>
<circle cx="263.5" cy="594.2" r="3.6" fill="#f4f4f4" stroke="#555" stroke-width="1"/>
<path d="M275.5,589.3 L374.5,589.3 Q377,589.3 377,591.8 L377,598 Q377,600.3 374.5,600.3 L313.3,600.3 L313.3,604.5 Q313.3,606.8 311,606.8 L275.5,606.8 Q273.1,606.8 273.1,604.5 L273.1,591.8 Q273.1,589.3 275.5,589.3 Z" fill="#e2e2e4" stroke="#fafafa" stroke-width="1.2"/>
<rect x="282.9" y="592.5" width="23.3" height="10" fill="#252527"/>
<rect x="286" y="602.5" width="18" height="4.3" fill="#2a2a2c"/>
<rect x="328.2" y="591.6" width="45.4" height="4.8" fill="#a8a8aa"/>
<rect x="328.2" y="591.6" width="30.5" height="4.8" fill="#1e1e20"/>
<rect x="318.5" y="619.7" width="79.3" height="292" fill="#f2f2f4"/>
<rect x="320.9" y="622.7" width="72.3" height="16.8" fill="#707072"/>
<text x="328.2" y="638.2" font-family='"Liberation Sans", sans-serif' font-size="13" font-weight="bold" fill="#f4f4f4" transform="translate(328.5 0) scale(0.94 1) translate(-328.5 0)">iDRAC</text>
<circle cx="324.1" cy="628.3" r="1" fill="#eee"/>
<circle cx="373.8" cy="628.3" r="1" fill="#eee"/>
<rect x="379" y="626.3" width="9" height="11" fill="#f4f4f4"/>
<rect x="381.5" y="626.3" width="4" height="3" fill="#707072"/>
<rect x="381.5" y="631" width="4" height="4" fill="#9a9a9a"/>
<rect x="320.9" y="642" width="72.3" height="60" fill="#a9a9ab"/>
<circle cx="383.5" cy="670" r="8" fill="#c8c8ca" opacity="0.7"/>
<circle cx="382" cy="668" r="7.6" fill="#111"/>
<circle cx="381.5" cy="667.8" r="3.3" fill="#9a9a9a"/>
<circle cx="384" cy="691.4" r="7.3" fill="#c8c8ca" opacity="0.7"/>
<circle cx="382.5" cy="689.4" r="7" fill="#111"/>
<circle cx="382.5" cy="689.4" r="2.8" fill="#ffffff"/>
<circle cx="367.2" cy="679.8" r="6.3" fill="#555557"/>
<path d="M368.2,676 L366.8,684" stroke="#f0f0f0" stroke-width="1.8" stroke-linecap="round"/>
<circle cx="368.6" cy="674.2" r="1" fill="#f0f0f0"/>
<rect x="321.3" y="705.8" width="71.3" height="76.7" fill="#8e8e90"/>
<rect x="344.25" y="707" width="14.2" height="28.8" rx="2.5" fill="#5a5a5c"/>
<rect x="345.55" y="708.7" width="11.6" height="25.4" rx="2" fill="#e4e4e4"/>
<rect x="347.25" y="710.8" width="8.3" height="21.2" fill="#1c1c1e"/>
<rect x="348.05" y="713" width="3.3" height="17.8" fill="#f4f4f4"/>
<rect x="352.25" y="715" width="2" height="1.2" fill="#9a9a9a"/>
<rect x="352.25" y="719" width="2" height="1.2" fill="#9a9a9a"/>
<rect x="352.25" y="723" width="2" height="1.2" fill="#9a9a9a"/>
<rect x="352.25" y="727" width="2" height="1.2" fill="#9a9a9a"/>
<rect x="362.2" y="707" width="14.2" height="28.8" rx="2.5" fill="#5a5a5c"/>
<rect x="363.5" y="708.7" width="11.6" height="25.4" rx="2" fill="#e4e4e4"/>
<rect x="365.2" y="710.8" width="8.3" height="21.2" fill="#1c1c1e"/>
<rect x="366.0" y="713" width="3.3" height="17.8" fill="#f4f4f4"/>
<rect x="370.2" y="715" width="2" height="1.2" fill="#9a9a9a"/>
<rect x="370.2" y="719" width="2" height="1.2" fill="#9a9a9a"/>
<rect x="370.2" y="723" width="2" height="1.2" fill="#9a9a9a"/>
<rect x="370.2" y="727" width="2" height="1.2" fill="#9a9a9a"/>
<rect x="379.2" y="707" width="14.2" height="28.8" rx="2.5" fill="#5a5a5c"/>
<rect x="380.5" y="708.7" width="11.6" height="25.4" rx="2" fill="#e4e4e4"/>
<rect x="382.2" y="710.8" width="8.3" height="21.2" fill="#1c1c1e"/>
<rect x="383.0" y="713" width="3.3" height="17.8" fill="#f4f4f4"/>
<rect x="387.2" y="715" width="2" height="1.2" fill="#9a9a9a"/>
<rect x="387.2" y="719" width="2" height="1.2" fill="#9a9a9a"/>
<rect x="387.2" y="723" width="2" height="1.2" fill="#9a9a9a"/>
<rect x="387.2" y="727" width="2" height="1.2" fill="#9a9a9a"/>
<rect x="344.25" y="753.3" width="14.2" height="28.8" rx="2.5" fill="#5a5a5c"/>
<rect x="345.55" y="755.0" width="11.6" height="25.4" rx="2" fill="#e4e4e4"/>
<rect x="347.25" y="757.0999999999999" width="8.3" height="21.2" fill="#1c1c1e"/>
<rect x="348.05" y="759.3" width="3.3" height="17.8" fill="#f4f4f4"/>
<rect x="352.25" y="761.3" width="2" height="1.2" fill="#9a9a9a"/>
<rect x="352.25" y="765.3" width="2" height="1.2" fill="#9a9a9a"/>
<rect x="352.25" y="769.3" width="2" height="1.2" fill="#9a9a9a"/>
<rect x="352.25" y="773.3" width="2" height="1.2" fill="#9a9a9a"/>
<rect x="362.2" y="753.3" width="14.2" height="28.8" rx="2.5" fill="#5a5a5c"/>
<rect x="363.5" y="755.0" width="11.6" height="25.4" rx="2" fill="#e4e4e4"/>
<rect x="365.2" y="757.0999999999999" width="8.3" height="21.2" fill="#1c1c1e"/>
<rect x="366.0" y="759.3" width="3.3" height="17.8" fill="#f4f4f4"/>
<rect x="370.2" y="761.3" width="2" height="1.2" fill="#9a9a9a"/>
<rect x="370.2" y="765.3" width="2" height="1.2" fill="#9a9a9a"/>
<rect x="370.2" y="769.3" width="2" height="1.2" fill="#9a9a9a"/>
<rect x="370.2" y="773.3" width="2" height="1.2" fill="#9a9a9a"/>
<rect x="379.2" y="753.3" width="14.2" height="28.8" rx="2.5" fill="#5a5a5c"/>
<rect x="380.5" y="755.0" width="11.6" height="25.4" rx="2" fill="#e4e4e4"/>
<rect x="382.2" y="757.0999999999999" width="8.3" height="21.2" fill="#1c1c1e"/>
<rect x="383.0" y="759.3" width="3.3" height="17.8" fill="#f4f4f4"/>
<rect x="387.2" y="761.3" width="2" height="1.2" fill="#9a9a9a"/>
<rect x="387.2" y="765.3" width="2" height="1.2" fill="#9a9a9a"/>
<rect x="387.2" y="769.3" width="2" height="1.2" fill="#9a9a9a"/>
<rect x="387.2" y="773.3" width="2" height="1.2" fill="#9a9a9a"/>
<path d="M326,744.2 L341,744.2 M330,744.2 L333,740.5 L337,740.5 M332,744.2 L334.5,747.8 L337.5,747.8" stroke="#505052" stroke-width="1.1" fill="none"/>
<circle cx="325.5" cy="744.2" r="1.6" fill="#505052"/>
<path d="M341,742.5 L343.5,744.2 L341,746 Z" fill="#505052"/>
<rect x="321.3" y="786.25" width="72.1" height="49.2" fill="#acacae"/>
<rect x="327.5" y="787.5" width="3" height="2.6" fill="#444"/>
<rect x="323" y="793" width="3" height="2.6" fill="#444"/>
<rect x="332" y="793" width="3" height="2.6" fill="#444"/>
<path d="M329,790 L329,791.6 M324.5,793 L324.5,791.6 L333.5,791.6 L333.5,793" stroke="#444" stroke-width="0.9" fill="none"/>
<rect x="355.5" y="787.5" width="9.2" height="8.3" fill="#222"/>
<rect x="381" y="787.5" width="9" height="8.3" fill="#222"/>
<text x="357.5" y="795" font-family='"Liberation Sans", sans-serif' font-size="8" font-weight="bold" fill="#5a5a5a">1</text>
<text x="383" y="795" font-family='"Liberation Sans", sans-serif' font-size="8" font-weight="bold" fill="#5a5a5a">2</text>
<rect x="336.75" y="796.7" width="28" height="38.7" fill="#3c3c3e"/>
<rect x="338.35" y="798.2" width="25" height="35.7" fill="#efefef"/>
<path d="M348.35,803.75 L359.95,803.75 L359.95,827.9 L348.35,827.9 L348.35,824 L345.25,824 L345.25,821.7 L342.65,821.7 L342.65,811.7 L345.25,811.7 L345.25,809 L348.35,809 Z" fill="#29292b"/>
<rect x="340.95" y="802" width="2.8" height="5.5" fill="#a0a0a0"/>
<rect x="340.95" y="823.8" width="2.8" height="6.2" fill="#a0a0a0"/>
<rect x="365.5" y="796.7" width="28" height="38.7" fill="#3c3c3e"/>
<rect x="367.1" y="798.2" width="25" height="35.7" fill="#efefef"/>
<path d="M370.0,803.75 L382.2,803.75 L382.2,809 L385.0,809 L385.0,811.7 L387.6,811.7 L387.6,821.7 L385.0,821.7 L385.0,824 L382.2,824 L382.2,827.9 L370.0,827.9 Z" fill="#29292b"/>
<rect x="386.7" y="802" width="2.8" height="5.5" fill="#a0a0a0"/>
<rect x="386.7" y="823.8" width="2.8" height="6.2" fill="#a0a0a0"/>
<rect x="321" y="839.6" width="35.5" height="69.6" fill="#8e8e90"/>
<rect x="358.8" y="839.6" width="35" height="69.6" fill="#cfcfd1"/>
<rect x="322" y="841" width="14" height="4" fill="#7a7a7a"/>
<rect x="359.5" y="841" width="11" height="4" fill="#9a9a9a"/>
<rect x="338.7" y="842.75" width="12.6" height="62.450000000000045" rx="6.3" fill="#2c2c2e"/>
<path d="M334.7,860 Q334.7,857 337.7,857 L351.2,857 Q354.2,857 354.2,860 L352.7,887.8 Q352.2,890.8 349.2,890.8 L339.7,890.8 Q336.7,890.8 336.2,887.8 Z" fill="#2c2c2e"/>
<path d="M336.7,861.5 Q336.7,859.5 339.2,859.5 L349.7,859.5 Q352.2,859.5 352.2,861.5 L351.0,886.8 Q350.7,888.8 348.2,888.8 L340.7,888.8 Q338.2,888.8 337.9,886.8 Z" fill="#111" stroke="#d8d8d8" stroke-width="1.2"/>
<circle cx="345" cy="848.75" r="4.3" fill="#f0f0f0"/>
<circle cx="345" cy="848.75" r="2" fill="#555"/>
<circle cx="345" cy="899.2" r="4.3" fill="#f0f0f0"/>
<circle cx="345" cy="899.2" r="2" fill="#555"/>
<circle cx="340.9" cy="864.6" r="1.1" fill="#f4f4f4"/>
<circle cx="340.9" cy="869.8000000000001" r="1.1" fill="#f4f4f4"/>
<circle cx="340.9" cy="875.0" r="1.1" fill="#f4f4f4"/>
<circle cx="340.9" cy="880.2" r="1.1" fill="#f4f4f4"/>
<circle cx="340.9" cy="885.4" r="1.1" fill="#f4f4f4"/>
<circle cx="346.75" cy="867.2" r="1.1" fill="#f4f4f4"/>
<circle cx="346.75" cy="872.4000000000001" r="1.1" fill="#f4f4f4"/>
<circle cx="346.75" cy="877.6" r="1.1" fill="#f4f4f4"/>
<circle cx="346.75" cy="882.8000000000001" r="1.1" fill="#f4f4f4"/>
<rect x="372.95" y="844" width="12.6" height="59.10000000000002" rx="6.3" fill="#2c2c2e"/>
<path d="M369.25,860 Q369.25,857 372.25,857 L386.25,857 Q389.25,857 389.25,860 L387.75,887 Q387.25,890 384.25,890 L374.25,890 Q371.25,890 370.75,887 Z" fill="#2c2c2e"/>
<path d="M371.25,861.5 Q371.25,859.5 373.75,859.5 L384.75,859.5 Q387.25,859.5 387.25,861.5 L386.05,886 Q385.75,888 383.25,888 L375.25,888 Q372.75,888 372.45,886 Z" fill="#c4c4c6" stroke="#d8d8d8" stroke-width="1.2"/>
<circle cx="379.25" cy="850" r="4.3" fill="#f0f0f0"/>
<circle cx="379.25" cy="850" r="2" fill="#555"/>
<circle cx="379.25" cy="897.1" r="4.3" fill="#f0f0f0"/>
<circle cx="379.25" cy="897.1" r="2" fill="#555"/>
<rect x="373.7" y="864" width="1.6" height="4" fill="#8a8a8a"/>
<rect x="376.3" y="864" width="1.6" height="4" fill="#8a8a8a"/>
<rect x="378.9" y="864" width="1.6" height="4" fill="#8a8a8a"/>
<rect x="381.5" y="864" width="1.6" height="4" fill="#8a8a8a"/>
<rect x="384.09999999999997" y="864" width="1.6" height="4" fill="#8a8a8a"/>
<rect x="375.0" y="873" width="1.6" height="4" fill="#8a8a8a"/>
<rect x="377.6" y="873" width="1.6" height="4" fill="#8a8a8a"/>
<rect x="380.2" y="873" width="1.6" height="4" fill="#8a8a8a"/>
<rect x="382.8" y="873" width="1.6" height="4" fill="#8a8a8a"/>
<rect x="385.4" y="873" width="1.6" height="4" fill="#8a8a8a"/>
<rect x="373.7" y="882" width="1.6" height="4" fill="#8a8a8a"/>
<rect x="376.3" y="882" width="1.6" height="4" fill="#8a8a8a"/>
<rect x="378.9" y="882" width="1.6" height="4" fill="#8a8a8a"/>
<rect x="381.5" y="882" width="1.6" height="4" fill="#8a8a8a"/>
<rect x="384.09999999999997" y="882" width="1.6" height="4" fill="#8a8a8a"/>
<rect x="57.60" y="672.90" width="18.2" height="18.2" rx="3.2" fill="#fbfbfb"/>
<rect x="58.20" y="673.50" width="16.3" height="16.5" rx="2.6" fill="#2e2e30"/>
<rect x="59.40" y="674.80" width="14.7" height="14.9" rx="2" fill="#6c6c6e"/>
<rect x="102.40" y="672.90" width="18.2" height="18.2" rx="3.2" fill="#fbfbfb"/>
<rect x="103.00" y="673.50" width="16.3" height="16.5" rx="2.6" fill="#2e2e30"/>
<rect x="104.20" y="674.80" width="14.7" height="14.9" rx="2" fill="#6c6c6e"/>
<rect x="124.80" y="672.90" width="18.2" height="18.2" rx="3.2" fill="#fbfbfb"/>
<rect x="125.40" y="673.50" width="16.3" height="16.5" rx="2.6" fill="#2e2e30"/>
<rect x="126.60" y="674.80" width="14.7" height="14.9" rx="2" fill="#6c6c6e"/>
<rect x="147.20" y="672.90" width="18.2" height="18.2" rx="3.2" fill="#fbfbfb"/>
<rect x="147.80" y="673.50" width="16.3" height="16.5" rx="2.6" fill="#2e2e30"/>
<rect x="149.00" y="674.80" width="14.7" height="14.9" rx="2" fill="#6c6c6e"/>
<rect x="169.60" y="672.90" width="18.2" height="18.2" rx="3.2" fill="#fbfbfb"/>
<rect x="170.20" y="673.50" width="16.3" height="16.5" rx="2.6" fill="#2e2e30"/>
<rect x="171.40" y="674.80" width="14.7" height="14.9" rx="2" fill="#6c6c6e"/>
<rect x="192.00" y="672.90" width="18.2" height="18.2" rx="3.2" fill="#fbfbfb"/>
<rect x="192.60" y="673.50" width="16.3" height="16.5" rx="2.6" fill="#2e2e30"/>
<rect x="193.80" y="674.80" width="14.7" height="14.9" rx="2" fill="#6c6c6e"/>
<rect x="214.40" y="672.90" width="18.2" height="18.2" rx="3.2" fill="#fbfbfb"/>
<rect x="215.00" y="673.50" width="16.3" height="16.5" rx="2.6" fill="#2e2e30"/>
<rect x="216.20" y="674.80" width="14.7" height="14.9" rx="2" fill="#6c6c6e"/>
<rect x="57.60" y="695.30" width="18.2" height="18.2" rx="3.2" fill="#fbfbfb"/>
<rect x="58.20" y="695.90" width="16.3" height="16.5" rx="2.6" fill="#2e2e30"/>
<rect x="59.40" y="697.20" width="14.7" height="14.9" rx="2" fill="#6c6c6e"/>
<rect x="80.00" y="695.30" width="18.2" height="18.2" rx="3.2" fill="#fbfbfb"/>
<rect x="80.60" y="695.90" width="16.3" height="16.5" rx="2.6" fill="#2e2e30"/>
<rect x="81.80" y="697.20" width="14.7" height="14.9" rx="2" fill="#6c6c6e"/>
<rect x="102.40" y="695.30" width="18.2" height="18.2" rx="3.2" fill="#fbfbfb"/>
<rect x="103.00" y="695.90" width="16.3" height="16.5" rx="2.6" fill="#2e2e30"/>
<rect x="104.20" y="697.20" width="14.7" height="14.9" rx="2" fill="#6c6c6e"/>
<rect x="124.80" y="695.30" width="18.2" height="18.2" rx="3.2" fill="#fbfbfb"/>
<rect x="125.40" y="695.90" width="16.3" height="16.5" rx="2.6" fill="#2e2e30"/>
<rect x="126.60" y="697.20" width="14.7" height="14.9" rx="2" fill="#6c6c6e"/>
<rect x="147.20" y="695.30" width="18.2" height="18.2" rx="3.2" fill="#fbfbfb"/>
<rect x="147.80" y="695.90" width="16.3" height="16.5" rx="2.6" fill="#2e2e30"/>
<rect x="149.00" y="697.20" width="14.7" height="14.9" rx="2" fill="#6c6c6e"/>
<rect x="169.60" y="695.30" width="18.2" height="18.2" rx="3.2" fill="#fbfbfb"/>
<rect x="170.20" y="695.90" width="16.3" height="16.5" rx="2.6" fill="#2e2e30"/>
<rect x="171.40" y="697.20" width="14.7" height="14.9" rx="2" fill="#6c6c6e"/>
<rect x="192.00" y="695.30" width="18.2" height="18.2" rx="3.2" fill="#fbfbfb"/>
<rect x="192.60" y="695.90" width="16.3" height="16.5" rx="2.6" fill="#2e2e30"/>
<rect x="193.80" y="697.20" width="14.7" height="14.9" rx="2" fill="#6c6c6e"/>
<rect x="214.40" y="695.30" width="18.2" height="18.2" rx="3.2" fill="#fbfbfb"/>
<rect x="215.00" y="695.90" width="16.3" height="16.5" rx="2.6" fill="#2e2e30"/>
<rect x="216.20" y="697.20" width="14.7" height="14.9" rx="2" fill="#6c6c6e"/>
<rect x="236.80" y="695.30" width="18.2" height="18.2" rx="3.2" fill="#fbfbfb"/>
<rect x="237.40" y="695.90" width="16.3" height="16.5" rx="2.6" fill="#2e2e30"/>
<rect x="238.60" y="697.20" width="14.7" height="14.9" rx="2" fill="#6c6c6e"/>
<rect x="57.60" y="717.70" width="18.2" height="18.2" rx="3.2" fill="#fbfbfb"/>
<rect x="58.20" y="718.30" width="16.3" height="16.5" rx="2.6" fill="#2e2e30"/>
<rect x="59.40" y="719.60" width="14.7" height="14.9" rx="2" fill="#6c6c6e"/>
<rect x="80.00" y="717.70" width="18.2" height="18.2" rx="3.2" fill="#fbfbfb"/>
<rect x="80.60" y="718.30" width="16.3" height="16.5" rx="2.6" fill="#2e2e30"/>
<rect x="81.80" y="719.60" width="14.7" height="14.9" rx="2" fill="#6c6c6e"/>
<rect x="102.40" y="717.70" width="18.2" height="18.2" rx="3.2" fill="#fbfbfb"/>
<rect x="103.00" y="718.30" width="16.3" height="16.5" rx="2.6" fill="#2e2e30"/>
<rect x="104.20" y="719.60" width="14.7" height="14.9" rx="2" fill="#6c6c6e"/>
<rect x="124.80" y="717.70" width="18.2" height="18.2" rx="3.2" fill="#fbfbfb"/>
<rect x="125.40" y="718.30" width="16.3" height="16.5" rx="2.6" fill="#2e2e30"/>
<rect x="126.60" y="719.60" width="14.7" height="14.9" rx="2" fill="#6c6c6e"/>
<rect x="147.20" y="717.70" width="18.2" height="18.2" rx="3.2" fill="#fbfbfb"/>
<rect x="147.80" y="718.30" width="16.3" height="16.5" rx="2.6" fill="#2e2e30"/>
<rect x="149.00" y="719.60" width="14.7" height="14.9" rx="2" fill="#6c6c6e"/>
<rect x="169.60" y="717.70" width="18.2" height="18.2" rx="3.2" fill="#fbfbfb"/>
<rect x="170.20" y="718.30" width="16.3" height="16.5" rx="2.6" fill="#2e2e30"/>
<rect x="171.40" y="719.60" width="14.7" height="14.9" rx="2" fill="#6c6c6e"/>
<rect x="192.00" y="717.70" width="18.2" height="18.2" rx="3.2" fill="#fbfbfb"/>
<rect x="192.60" y="718.30" width="16.3" height="16.5" rx="2.6" fill="#2e2e30"/>
<rect x="193.80" y="719.60" width="14.7" height="14.9" rx="2" fill="#6c6c6e"/>
<rect x="214.40" y="717.70" width="18.2" height="18.2" rx="3.2" fill="#fbfbfb"/>
<rect x="215.00" y="718.30" width="16.3" height="16.5" rx="2.6" fill="#2e2e30"/>
<rect x="216.20" y="719.60" width="14.7" height="14.9" rx="2" fill="#6c6c6e"/>
<rect x="236.80" y="717.70" width="18.2" height="18.2" rx="3.2" fill="#fbfbfb"/>
<rect x="237.40" y="718.30" width="16.3" height="16.5" rx="2.6" fill="#2e2e30"/>
<rect x="238.60" y="719.60" width="14.7" height="14.9" rx="2" fill="#6c6c6e"/>
<rect x="259.20" y="717.70" width="18.2" height="18.2" rx="3.2" fill="#fbfbfb"/>
<rect x="259.80" y="718.30" width="16.3" height="16.5" rx="2.6" fill="#2e2e30"/>
<rect x="261.00" y="719.60" width="14.7" height="14.9" rx="2" fill="#6c6c6e"/>
<rect x="57.60" y="740.10" width="18.2" height="18.2" rx="3.2" fill="#fbfbfb"/>
<rect x="58.20" y="740.70" width="16.3" height="16.5" rx="2.6" fill="#2e2e30"/>
<rect x="59.40" y="742.00" width="14.7" height="14.9" rx="2" fill="#6c6c6e"/>
<rect x="80.00" y="740.10" width="18.2" height="18.2" rx="3.2" fill="#fbfbfb"/>
<rect x="80.60" y="740.70" width="16.3" height="16.5" rx="2.6" fill="#2e2e30"/>
<rect x="81.80" y="742.00" width="14.7" height="14.9" rx="2" fill="#6c6c6e"/>
<rect x="102.40" y="740.10" width="18.2" height="18.2" rx="3.2" fill="#fbfbfb"/>
<rect x="103.00" y="740.70" width="16.3" height="16.5" rx="2.6" fill="#2e2e30"/>
<rect x="104.20" y="742.00" width="14.7" height="14.9" rx="2" fill="#6c6c6e"/>
<rect x="124.80" y="740.10" width="18.2" height="18.2" rx="3.2" fill="#fbfbfb"/>
<rect x="125.40" y="740.70" width="16.3" height="16.5" rx="2.6" fill="#2e2e30"/>
<rect x="126.60" y="742.00" width="14.7" height="14.9" rx="2" fill="#6c6c6e"/>
<rect x="147.20" y="740.10" width="18.2" height="18.2" rx="3.2" fill="#fbfbfb"/>
<rect x="147.80" y="740.70" width="16.3" height="16.5" rx="2.6" fill="#2e2e30"/>
<rect x="149.00" y="742.00" width="14.7" height="14.9" rx="2" fill="#6c6c6e"/>
<rect x="169.60" y="740.10" width="18.2" height="18.2" rx="3.2" fill="#fbfbfb"/>
<rect x="170.20" y="740.70" width="16.3" height="16.5" rx="2.6" fill="#2e2e30"/>
<rect x="171.40" y="742.00" width="14.7" height="14.9" rx="2" fill="#6c6c6e"/>
<rect x="192.00" y="740.10" width="18.2" height="18.2" rx="3.2" fill="#fbfbfb"/>
<rect x="192.60" y="740.70" width="16.3" height="16.5" rx="2.6" fill="#2e2e30"/>
<rect x="193.80" y="742.00" width="14.7" height="14.9" rx="2" fill="#6c6c6e"/>
<rect x="214.40" y="740.10" width="18.2" height="18.2" rx="3.2" fill="#fbfbfb"/>
<rect x="215.00" y="740.70" width="16.3" height="16.5" rx="2.6" fill="#2e2e30"/>
<rect x="216.20" y="742.00" width="14.7" height="14.9" rx="2" fill="#6c6c6e"/>
<rect x="236.80" y="740.10" width="18.2" height="18.2" rx="3.2" fill="#fbfbfb"/>
<rect x="237.40" y="740.70" width="16.3" height="16.5" rx="2.6" fill="#2e2e30"/>
<rect x="238.60" y="742.00" width="14.7" height="14.9" rx="2" fill="#6c6c6e"/>
<rect x="259.20" y="740.10" width="18.2" height="18.2" rx="3.2" fill="#fbfbfb"/>
<rect x="259.80" y="740.70" width="16.3" height="16.5" rx="2.6" fill="#2e2e30"/>
<rect x="261.00" y="742.00" width="14.7" height="14.9" rx="2" fill="#6c6c6e"/>
<rect x="57.60" y="762.50" width="18.2" height="18.2" rx="3.2" fill="#fbfbfb"/>
<rect x="58.20" y="763.10" width="16.3" height="16.5" rx="2.6" fill="#2e2e30"/>
<rect x="59.40" y="764.40" width="14.7" height="14.9" rx="2" fill="#6c6c6e"/>
<rect x="80.00" y="762.50" width="18.2" height="18.2" rx="3.2" fill="#fbfbfb"/>
<rect x="80.60" y="763.10" width="16.3" height="16.5" rx="2.6" fill="#2e2e30"/>
<rect x="81.80" y="764.40" width="14.7" height="14.9" rx="2" fill="#6c6c6e"/>
<rect x="102.40" y="762.50" width="18.2" height="18.2" rx="3.2" fill="#fbfbfb"/>
<rect x="103.00" y="763.10" width="16.3" height="16.5" rx="2.6" fill="#2e2e30"/>
<rect x="104.20" y="764.40" width="14.7" height="14.9" rx="2" fill="#6c6c6e"/>
<rect x="124.80" y="762.50" width="18.2" height="18.2" rx="3.2" fill="#fbfbfb"/>
<rect x="125.40" y="763.10" width="16.3" height="16.5" rx="2.6" fill="#2e2e30"/>
<rect x="126.60" y="764.40" width="14.7" height="14.9" rx="2" fill="#6c6c6e"/>
<rect x="147.20" y="762.50" width="18.2" height="18.2" rx="3.2" fill="#fbfbfb"/>
<rect x="147.80" y="763.10" width="16.3" height="16.5" rx="2.6" fill="#2e2e30"/>
<rect x="149.00" y="764.40" width="14.7" height="14.9" rx="2" fill="#6c6c6e"/>
<rect x="169.60" y="762.50" width="18.2" height="18.2" rx="3.2" fill="#fbfbfb"/>
<rect x="170.20" y="763.10" width="16.3" height="16.5" rx="2.6" fill="#2e2e30"/>
<rect x="171.40" y="764.40" width="14.7" height="14.9" rx="2" fill="#6c6c6e"/>
<rect x="192.00" y="762.50" width="18.2" height="18.2" rx="3.2" fill="#fbfbfb"/>
<rect x="192.60" y="763.10" width="16.3" height="16.5" rx="2.6" fill="#2e2e30"/>
<rect x="193.80" y="764.40" width="14.7" height="14.9" rx="2" fill="#6c6c6e"/>
<rect x="214.40" y="762.50" width="18.2" height="18.2" rx="3.2" fill="#fbfbfb"/>
<rect x="215.00" y="763.10" width="16.3" height="16.5" rx="2.6" fill="#2e2e30"/>
<rect x="216.20" y="764.40" width="14.7" height="14.9" rx="2" fill="#6c6c6e"/>
<rect x="236.80" y="762.50" width="18.2" height="18.2" rx="3.2" fill="#fbfbfb"/>
<rect x="237.40" y="763.10" width="16.3" height="16.5" rx="2.6" fill="#2e2e30"/>
<rect x="238.60" y="764.40" width="14.7" height="14.9" rx="2" fill="#6c6c6e"/>
<rect x="259.20" y="762.50" width="18.2" height="18.2" rx="3.2" fill="#fbfbfb"/>
<rect x="259.80" y="763.10" width="16.3" height="16.5" rx="2.6" fill="#2e2e30"/>
<rect x="261.00" y="764.40" width="14.7" height="14.9" rx="2" fill="#6c6c6e"/>
<rect x="57.60" y="784.90" width="18.2" height="18.2" rx="3.2" fill="#fbfbfb"/>
<rect x="58.20" y="785.50" width="16.3" height="16.5" rx="2.6" fill="#2e2e30"/>
<rect x="59.40" y="786.80" width="14.7" height="14.9" rx="2" fill="#6c6c6e"/>
<rect x="80.00" y="784.90" width="18.2" height="18.2" rx="3.2" fill="#fbfbfb"/>
<rect x="80.60" y="785.50" width="16.3" height="16.5" rx="2.6" fill="#2e2e30"/>
<rect x="81.80" y="786.80" width="14.7" height="14.9" rx="2" fill="#6c6c6e"/>
<rect x="102.40" y="784.90" width="18.2" height="18.2" rx="3.2" fill="#fbfbfb"/>
<rect x="103.00" y="785.50" width="16.3" height="16.5" rx="2.6" fill="#2e2e30"/>
<rect x="104.20" y="786.80" width="14.7" height="14.9" rx="2" fill="#6c6c6e"/>
<rect x="124.80" y="784.90" width="18.2" height="18.2" rx="3.2" fill="#fbfbfb"/>
<rect x="125.40" y="785.50" width="16.3" height="16.5" rx="2.6" fill="#2e2e30"/>
<rect x="126.60" y="786.80" width="14.7" height="14.9" rx="2" fill="#6c6c6e"/>
<rect x="147.20" y="784.90" width="18.2" height="18.2" rx="3.2" fill="#fbfbfb"/>
<rect x="147.80" y="785.50" width="16.3" height="16.5" rx="2.6" fill="#2e2e30"/>
<rect x="149.00" y="786.80" width="14.7" height="14.9" rx="2" fill="#6c6c6e"/>
<rect x="169.60" y="784.90" width="18.2" height="18.2" rx="3.2" fill="#fbfbfb"/>
<rect x="170.20" y="785.50" width="16.3" height="16.5" rx="2.6" fill="#2e2e30"/>
<rect x="171.40" y="786.80" width="14.7" height="14.9" rx="2" fill="#6c6c6e"/>
<rect x="192.00" y="784.90" width="18.2" height="18.2" rx="3.2" fill="#fbfbfb"/>
<rect x="192.60" y="785.50" width="16.3" height="16.5" rx="2.6" fill="#2e2e30"/>
<rect x="193.80" y="786.80" width="14.7" height="14.9" rx="2" fill="#6c6c6e"/>
<rect x="214.40" y="784.90" width="18.2" height="18.2" rx="3.2" fill="#fbfbfb"/>
<rect x="215.00" y="785.50" width="16.3" height="16.5" rx="2.6" fill="#2e2e30"/>
<rect x="216.20" y="786.80" width="14.7" height="14.9" rx="2" fill="#6c6c6e"/>
<rect x="236.80" y="784.90" width="18.2" height="18.2" rx="3.2" fill="#fbfbfb"/>
<rect x="237.40" y="785.50" width="16.3" height="16.5" rx="2.6" fill="#2e2e30"/>
<rect x="238.60" y="786.80" width="14.7" height="14.9" rx="2" fill="#6c6c6e"/>
<rect x="259.20" y="784.90" width="18.2" height="18.2" rx="3.2" fill="#fbfbfb"/>
<rect x="259.80" y="785.50" width="16.3" height="16.5" rx="2.6" fill="#2e2e30"/>
<rect x="261.00" y="786.80" width="14.7" height="14.9" rx="2" fill="#6c6c6e"/>
<rect x="57.60" y="807.30" width="18.2" height="18.2" rx="3.2" fill="#fbfbfb"/>
<rect x="58.20" y="807.90" width="16.3" height="16.5" rx="2.6" fill="#2e2e30"/>
<rect x="59.40" y="809.20" width="14.7" height="14.9" rx="2" fill="#6c6c6e"/>
<rect x="80.00" y="807.30" width="18.2" height="18.2" rx="3.2" fill="#fbfbfb"/>
<rect x="80.60" y="807.90" width="16.3" height="16.5" rx="2.6" fill="#2e2e30"/>
<rect x="81.80" y="809.20" width="14.7" height="14.9" rx="2" fill="#6c6c6e"/>
<rect x="102.40" y="807.30" width="18.2" height="18.2" rx="3.2" fill="#fbfbfb"/>
<rect x="103.00" y="807.90" width="16.3" height="16.5" rx="2.6" fill="#2e2e30"/>
<rect x="104.20" y="809.20" width="14.7" height="14.9" rx="2" fill="#6c6c6e"/>
<rect x="124.80" y="807.30" width="18.2" height="18.2" rx="3.2" fill="#fbfbfb"/>
<rect x="125.40" y="807.90" width="16.3" height="16.5" rx="2.6" fill="#2e2e30"/>
<rect x="126.60" y="809.20" width="14.7" height="14.9" rx="2" fill="#6c6c6e"/>
<rect x="147.20" y="807.30" width="18.2" height="18.2" rx="3.2" fill="#fbfbfb"/>
<rect x="147.80" y="807.90" width="16.3" height="16.5" rx="2.6" fill="#2e2e30"/>
<rect x="149.00" y="809.20" width="14.7" height="14.9" rx="2" fill="#6c6c6e"/>
<rect x="169.60" y="807.30" width="18.2" height="18.2" rx="3.2" fill="#fbfbfb"/>
<rect x="170.20" y="807.90" width="16.3" height="16.5" rx="2.6" fill="#2e2e30"/>
<rect x="171.40" y="809.20" width="14.7" height="14.9" rx="2" fill="#6c6c6e"/>
<rect x="192.00" y="807.30" width="18.2" height="18.2" rx="3.2" fill="#fbfbfb"/>
<rect x="192.60" y="807.90" width="16.3" height="16.5" rx="2.6" fill="#2e2e30"/>
<rect x="193.80" y="809.20" width="14.7" height="14.9" rx="2" fill="#6c6c6e"/>
<rect x="214.40" y="807.30" width="18.2" height="18.2" rx="3.2" fill="#fbfbfb"/>
<rect x="215.00" y="807.90" width="16.3" height="16.5" rx="2.6" fill="#2e2e30"/>
<rect x="216.20" y="809.20" width="14.7" height="14.9" rx="2" fill="#6c6c6e"/>
<rect x="236.80" y="807.30" width="18.2" height="18.2" rx="3.2" fill="#fbfbfb"/>
<rect x="237.40" y="807.90" width="16.3" height="16.5" rx="2.6" fill="#2e2e30"/>
<rect x="238.60" y="809.20" width="14.7" height="14.9" rx="2" fill="#6c6c6e"/>
<rect x="259.20" y="807.30" width="18.2" height="18.2" rx="3.2" fill="#fbfbfb"/>
<rect x="259.80" y="807.90" width="16.3" height="16.5" rx="2.6" fill="#2e2e30"/>
<rect x="261.00" y="809.20" width="14.7" height="14.9" rx="2" fill="#6c6c6e"/>
<rect x="57.60" y="829.70" width="18.2" height="18.2" rx="3.2" fill="#fbfbfb"/>
<rect x="58.20" y="830.30" width="16.3" height="16.5" rx="2.6" fill="#2e2e30"/>
<rect x="59.40" y="831.60" width="14.7" height="14.9" rx="2" fill="#6c6c6e"/>
<rect x="80.00" y="829.70" width="18.2" height="18.2" rx="3.2" fill="#fbfbfb"/>
<rect x="80.60" y="830.30" width="16.3" height="16.5" rx="2.6" fill="#2e2e30"/>
<rect x="81.80" y="831.60" width="14.7" height="14.9" rx="2" fill="#6c6c6e"/>
<rect x="102.40" y="829.70" width="18.2" height="18.2" rx="3.2" fill="#fbfbfb"/>
<rect x="103.00" y="830.30" width="16.3" height="16.5" rx="2.6" fill="#2e2e30"/>
<rect x="104.20" y="831.60" width="14.7" height="14.9" rx="2" fill="#6c6c6e"/>
<rect x="124.80" y="829.70" width="18.2" height="18.2" rx="3.2" fill="#fbfbfb"/>
<rect x="125.40" y="830.30" width="16.3" height="16.5" rx="2.6" fill="#2e2e30"/>
<rect x="126.60" y="831.60" width="14.7" height="14.9" rx="2" fill="#6c6c6e"/>
<rect x="147.20" y="829.70" width="18.2" height="18.2" rx="3.2" fill="#fbfbfb"/>
<rect x="147.80" y="830.30" width="16.3" height="16.5" rx="2.6" fill="#2e2e30"/>
<rect x="149.00" y="831.60" width="14.7" height="14.9" rx="2" fill="#6c6c6e"/>
<rect x="169.60" y="829.70" width="18.2" height="18.2" rx="3.2" fill="#fbfbfb"/>
<rect x="170.20" y="830.30" width="16.3" height="16.5" rx="2.6" fill="#2e2e30"/>
<rect x="171.40" y="831.60" width="14.7" height="14.9" rx="2" fill="#6c6c6e"/>
<rect x="192.00" y="829.70" width="18.2" height="18.2" rx="3.2" fill="#fbfbfb"/>
<rect x="192.60" y="830.30" width="16.3" height="16.5" rx="2.6" fill="#2e2e30"/>
<rect x="193.80" y="831.60" width="14.7" height="14.9" rx="2" fill="#6c6c6e"/>
<rect x="214.40" y="829.70" width="18.2" height="18.2" rx="3.2" fill="#fbfbfb"/>
<rect x="215.00" y="830.30" width="16.3" height="16.5" rx="2.6" fill="#2e2e30"/>
<rect x="216.20" y="831.60" width="14.7" height="14.9" rx="2" fill="#6c6c6e"/>
<rect x="236.80" y="829.70" width="18.2" height="18.2" rx="3.2" fill="#fbfbfb"/>
<rect x="237.40" y="830.30" width="16.3" height="16.5" rx="2.6" fill="#2e2e30"/>
<rect x="238.60" y="831.60" width="14.7" height="14.9" rx="2" fill="#6c6c6e"/>
<rect x="259.20" y="829.70" width="18.2" height="18.2" rx="3.2" fill="#fbfbfb"/>
<rect x="259.80" y="830.30" width="16.3" height="16.5" rx="2.6" fill="#2e2e30"/>
<rect x="261.00" y="831.60" width="14.7" height="14.9" rx="2" fill="#6c6c6e"/>
<rect x="57.60" y="852.10" width="18.2" height="18.2" rx="3.2" fill="#fbfbfb"/>
<rect x="58.20" y="852.70" width="16.3" height="16.5" rx="2.6" fill="#2e2e30"/>
<rect x="59.40" y="854.00" width="14.7" height="14.9" rx="2" fill="#6c6c6e"/>
<rect x="80.00" y="852.10" width="18.2" height="18.2" rx="3.2" fill="#fbfbfb"/>
<rect x="80.60" y="852.70" width="16.3" height="16.5" rx="2.6" fill="#2e2e30"/>
<rect x="81.80" y="854.00" width="14.7" height="14.9" rx="2" fill="#6c6c6e"/>
<rect x="102.40" y="852.10" width="18.2" height="18.2" rx="3.2" fill="#fbfbfb"/>
<rect x="103.00" y="852.70" width="16.3" height="16.5" rx="2.6" fill="#2e2e30"/>
<rect x="104.20" y="854.00" width="14.7" height="14.9" rx="2" fill="#6c6c6e"/>
<rect x="124.80" y="852.10" width="18.2" height="18.2" rx="3.2" fill="#fbfbfb"/>
<rect x="125.40" y="852.70" width="16.3" height="16.5" rx="2.6" fill="#2e2e30"/>
<rect x="126.60" y="854.00" width="14.7" height="14.9" rx="2" fill="#6c6c6e"/>
<rect x="147.20" y="852.10" width="18.2" height="18.2" rx="3.2" fill="#fbfbfb"/>
<rect x="147.80" y="852.70" width="16.3" height="16.5" rx="2.6" fill="#2e2e30"/>
<rect x="149.00" y="854.00" width="14.7" height="14.9" rx="2" fill="#6c6c6e"/>
<rect x="169.60" y="852.10" width="18.2" height="18.2" rx="3.2" fill="#fbfbfb"/>
<rect x="170.20" y="852.70" width="16.3" height="16.5" rx="2.6" fill="#2e2e30"/>
<rect x="171.40" y="854.00" width="14.7" height="14.9" rx="2" fill="#6c6c6e"/>
<rect x="192.00" y="852.10" width="18.2" height="18.2" rx="3.2" fill="#fbfbfb"/>
<rect x="192.60" y="852.70" width="16.3" height="16.5" rx="2.6" fill="#2e2e30"/>
<rect x="193.80" y="854.00" width="14.7" height="14.9" rx="2" fill="#6c6c6e"/>
<rect x="214.40" y="852.10" width="18.2" height="18.2" rx="3.2" fill="#fbfbfb"/>
<rect x="215.00" y="852.70" width="16.3" height="16.5" rx="2.6" fill="#2e2e30"/>
<rect x="216.20" y="854.00" width="14.7" height="14.9" rx="2" fill="#6c6c6e"/>
<rect x="236.80" y="852.10" width="18.2" height="18.2" rx="3.2" fill="#fbfbfb"/>
<rect x="237.40" y="852.70" width="16.3" height="16.5" rx="2.6" fill="#2e2e30"/>
<rect x="238.60" y="854.00" width="14.7" height="14.9" rx="2" fill="#6c6c6e"/>
<rect x="57.60" y="874.50" width="18.2" height="18.2" rx="3.2" fill="#fbfbfb"/>
<rect x="58.20" y="875.10" width="16.3" height="16.5" rx="2.6" fill="#2e2e30"/>
<rect x="59.40" y="876.40" width="14.7" height="14.9" rx="2" fill="#6c6c6e"/>
<rect x="80.00" y="874.50" width="18.2" height="18.2" rx="3.2" fill="#fbfbfb"/>
<rect x="80.60" y="875.10" width="16.3" height="16.5" rx="2.6" fill="#2e2e30"/>
<rect x="81.80" y="876.40" width="14.7" height="14.9" rx="2" fill="#6c6c6e"/>
<rect x="124.80" y="874.50" width="18.2" height="18.2" rx="3.2" fill="#fbfbfb"/>
<rect x="125.40" y="875.10" width="16.3" height="16.5" rx="2.6" fill="#2e2e30"/>
<rect x="126.60" y="876.40" width="14.7" height="14.9" rx="2" fill="#6c6c6e"/>
<rect x="147.20" y="874.50" width="18.2" height="18.2" rx="3.2" fill="#fbfbfb"/>
<rect x="147.80" y="875.10" width="16.3" height="16.5" rx="2.6" fill="#2e2e30"/>
<rect x="149.00" y="876.40" width="14.7" height="14.9" rx="2" fill="#6c6c6e"/>
<rect x="169.60" y="874.50" width="18.2" height="18.2" rx="3.2" fill="#fbfbfb"/>
<rect x="170.20" y="875.10" width="16.3" height="16.5" rx="2.6" fill="#2e2e30"/>
<rect x="171.40" y="876.40" width="14.7" height="14.9" rx="2" fill="#6c6c6e"/>
<rect x="192.00" y="874.50" width="18.2" height="18.2" rx="3.2" fill="#fbfbfb"/>
<rect x="192.60" y="875.10" width="16.3" height="16.5" rx="2.6" fill="#2e2e30"/>
<rect x="193.80" y="876.40" width="14.7" height="14.9" rx="2" fill="#6c6c6e"/>
<rect x="236.80" y="874.50" width="18.2" height="18.2" rx="3.2" fill="#fbfbfb"/>
<rect x="237.40" y="875.10" width="16.3" height="16.5" rx="2.6" fill="#2e2e30"/>
<rect x="238.60" y="876.40" width="14.7" height="14.9" rx="2" fill="#6c6c6e"/>
<path d="M80.5,675.5 L80.5,665.75 A9.75,9.75 0 0 1 100.0,665.75 L100.0,675.5 Z" fill="#2a2a2c"/>
<path d="M236,675.5 L236,665.75 A9.75,9.75 0 0 1 255.5,665.75 L255.5,675.5 Z" fill="#2a2a2c"/>
<path d="M103,902.5 L103,893.25 A9.25,9.25 0 0 1 121.5,893.25 L121.5,902.5 Z" fill="#2a2a2c"/>
<path d="M212.5,902.5 L212.5,893.25 A9.25,9.25 0 0 1 231.0,893.25 L231.0,902.5 Z" fill="#2a2a2c"/>
<rect x="272.5" y="694" width="14.5" height="11.5" fill="#2c2c2e"/>
<rect x="272.5" y="857.5" width="14.5" height="12.5" fill="#2c2c2e"/>
<rect x="256.5" y="905.5" width="27.5" height="15.5" fill="#1e1e20"/>
<rect x="263.6" y="911.5" width="14.3" height="3.2" fill="#d8d8d8"/>
<line x1="394" y1="36.2" x2="328.9" y2="100.4" stroke="#7e7e80" stroke-width="1.45"/>
<path d="M239.4,158.7 L239.4,100.4 L402.4,100.4 L402.4,159.7" fill="none" stroke="#7e7e80" stroke-width="1.45"/>
<path d="M374,354.2 L450.7,354.2 L450.7,570 L374,570" fill="none" stroke="#7e7e80" stroke-width="1.45"/>
<line x1="450.7" y1="462.5" x2="494" y2="462.5" stroke="#7e7e80" stroke-width="1.45"/>
<line x1="377" y1="594.4" x2="494.4" y2="594.4" stroke="#7e7e80" stroke-width="1.45"/>
<line x1="292.6" y1="599.6" x2="494.4" y2="632.2" stroke="#f4f4f4" stroke-width="3.4" stroke-opacity="0.85"/>
<line x1="292.6" y1="599.6" x2="494.4" y2="632.2" stroke="#7e7e80" stroke-width="1.45"/>
<line x1="389" y1="667.8" x2="494" y2="667.8" stroke="#7e7e80" stroke-width="1.45"/>
<line x1="389" y1="691.8" x2="494" y2="691.8" stroke="#7e7e80" stroke-width="1.45"/>
<path d="M396,706.1 L450.6,706.1 L450.6,782.5 L396,782.5" fill="none" stroke="#7e7e80" stroke-width="1.45"/>
<line x1="450.6" y1="743.8" x2="494.4" y2="743.8" stroke="#7e7e80" stroke-width="1.45"/>
<path d="M394,794.1 L450.6,794.1 L450.6,837.5 L394,837.5" fill="none" stroke="#7e7e80" stroke-width="1.45"/>
<line x1="450.6" y1="816.1" x2="494.4" y2="816.1" stroke="#7e7e80" stroke-width="1.45"/>
<line x1="387.8" y1="877.8" x2="493.3" y2="927.8" stroke="#f4f4f4" stroke-width="3.4" stroke-opacity="0.85"/>
<line x1="387.8" y1="877.8" x2="493.3" y2="927.8" stroke="#7e7e80" stroke-width="1.45"/>
<line x1="351" y1="888.9" x2="488.9" y2="1000" stroke="#f4f4f4" stroke-width="3.4" stroke-opacity="0.85"/>
<line x1="351" y1="888.9" x2="488.9" y2="1000" stroke="#7e7e80" stroke-width="1.45"/>
<line x1="269.7" y1="921" x2="394.4" y2="1044.4" stroke="#f4f4f4" stroke-width="3.4" stroke-opacity="0.85"/>
<line x1="269.7" y1="921" x2="394.4" y2="1044.4" stroke="#7e7e80" stroke-width="1.45"/>
<path d="M404.60,20.90 L404.60,36.30 L402.55,36.30 L402.55,25.47 L398.10,26.60 L398.10,23.93 L402.35,20.90 Z" fill="#38383a"/>
<text x="502.1" y="471" font-family='"Liberation Sans", sans-serif' font-size="21.3" fill="#38383a" stroke="#38383a" stroke-width="0.3" transform="translate(502.1 0) scale(1.04 1) translate(-502.1 0)">2</text>
<text x="502.0" y="600.3" font-family='"Liberation Sans", sans-serif' font-size="21.3" fill="#38383a" stroke="#38383a" stroke-width="0.3" transform="translate(502.0 0) scale(1.04 1) translate(-502.0 0)">3</text>
<text x="502.6" y="637.5" font-family='"Liberation Sans", sans-serif' font-size="21.3" fill="#38383a" stroke="#38383a" stroke-width="0.3" transform="translate(502.6 0) scale(1.04 1) translate(-502.6 0)">4</text>
<text x="501.9" y="673" font-family='"Liberation Sans", sans-serif' font-size="21.3" fill="#38383a" stroke="#38383a" stroke-width="0.3" transform="translate(501.9 0) scale(1.04 1) translate(-501.9 0)">5</text>
<text x="502.0" y="700.2" font-family='"Liberation Sans", sans-serif' font-size="21.3" fill="#38383a" stroke="#38383a" stroke-width="0.3" transform="translate(502.0 0) scale(1.04 1) translate(-502.0 0)">6</text>
<text x="501.9" y="752" font-family='"Liberation Sans", sans-serif' font-size="21.3" fill="#38383a" stroke="#38383a" stroke-width="0.3" transform="translate(501.9 0) scale(1.04 1) translate(-501.9 0)">7</text>
<text x="501.9" y="825.3" font-family='"Liberation Sans", sans-serif' font-size="21.3" fill="#38383a" stroke="#38383a" stroke-width="0.3" transform="translate(501.9 0) scale(1.04 1) translate(-501.9 0)">8</text>
<text x="502.0" y="944.4" font-family='"Liberation Sans", sans-serif' font-size="21.3" fill="#38383a" stroke="#38383a" stroke-width="0.3" transform="translate(502.0 0) scale(1.04 1) translate(-502.0 0)">9</text>
<path d="M498.90,1003.70 L498.90,1018.70 L496.85,1018.70 L496.85,1008.16 L492.40,1009.29 L492.40,1006.62 L496.65,1003.70 Z" fill="#38383a"/>
<text x="502.6" y="1018.9" font-family='"Liberation Sans", sans-serif' font-size="21.3" fill="#38383a" stroke="#38383a" stroke-width="0.3" transform="translate(502.6 0) scale(1.04 1) translate(-502.6 0)">0</text>
<path d="M406.10,1046.90 L406.10,1062.10 L404.05,1062.10 L404.05,1051.41 L400.10,1052.54 L400.10,1049.88 L403.85,1046.90 Z" fill="#38383a"/>
<path d="M417.00,1046.90 L417.00,1062.10 L414.95,1062.10 L414.95,1051.41 L411.10,1052.54 L411.10,1049.88 L414.75,1046.90 Z" fill="#38383a"/>
<g font-family='"Liberation Sans", sans-serif' font-size="23.7" fill="#1a1a1a" stroke="#1a1a1a" stroke-width="0.6">
<path d="M590.00,162.30 L590.00,178.90 L587.70,178.90 L587.70,166.76 L583.40,168.03 L583.40,165.04 L587.50,162.30 Z" stroke="none"/>
<text x="723.8" y="178.6" textLength="295.3" lengthAdjust="spacing" transform="translate(723.8 0) scale(0.84 1) translate(-723.8 0)">Power supplies (PSU1 and</text>
<text x="724.0" y="210.5" textLength="68.2" lengthAdjust="spacing" transform="translate(724.0 0) scale(0.84 1) translate(-724.0 0)">PSU2)</text>
<text x="577.0" y="268.2" stroke-width="0.6" transform="translate(577.0 0) scale(0.9 1) translate(-577.0 0)">2</text>
<text x="718.6" y="268.2" textLength="325.3" lengthAdjust="spacing" transform="translate(718.6 0) scale(0.84 1) translate(-718.6 0)">PCIe expansion card slots (6)</text>
<text x="576.9" y="346.2" stroke-width="0.6" transform="translate(576.9 0) scale(0.9 1) translate(-576.9 0)">3</text>
<text x="719.6" y="346.2" textLength="249.7" lengthAdjust="spacing" transform="translate(719.6 0) scale(0.84 1) translate(-719.6 0)">vFlash media card slot</text>
<text x="577.5" y="411.8" stroke-width="0.6" transform="translate(577.5 0) scale(0.9 1) translate(-577.5 0)">4</text>
<text x="718.7" y="411.8" textLength="256.6" lengthAdjust="spacing" transform="translate(718.7 0) scale(0.84 1) translate(-718.7 0)">iDRAC7 Enterprise port</text>
<text x="577.2" y="474.7" stroke-width="0.6" transform="translate(577.2 0) scale(0.9 1) translate(-577.2 0)">5</text>
<text x="718.8" y="474.7" textLength="313.6" lengthAdjust="spacing" transform="translate(718.8 0) scale(0.84 1) translate(-718.8 0)">System identification button</text>
<text x="576.0" y="536.8" stroke-width="0.6" transform="translate(576.0 0) scale(0.9 1) translate(-576.0 0)">6</text>
<text x="718.8" y="536.8" textLength="233.1" lengthAdjust="spacing" transform="translate(718.8 0) scale(0.84 1) translate(-718.8 0)">System identification</text>
<text x="718.8" y="567.3" textLength="113.7" lengthAdjust="spacing" transform="translate(718.8 0) scale(0.84 1) translate(-718.8 0)">connector</text>
<text x="576.9" y="646.4" stroke-width="0.6" transform="translate(576.9 0) scale(0.9 1) translate(-576.9 0)">7</text>
<text x="717.2" y="646.4" textLength="218.2" lengthAdjust="spacing" transform="translate(717.2 0) scale(0.84 1) translate(-717.2 0)">USB connectors (6)</text>
<text x="576.9" y="724.1" stroke-width="0.6" transform="translate(576.9 0) scale(0.9 1) translate(-576.9 0)">8</text>
<text x="716.6" y="724.1" textLength="263.9" lengthAdjust="spacing" transform="translate(716.6 0) scale(0.84 1) translate(-716.6 0)">Ethernet connectors (2)</text>
<text x="577.0" y="788.0" stroke-width="0.6" transform="translate(577.0 0) scale(0.9 1) translate(-577.0 0)">9</text>
<text x="718.4" y="788.0" textLength="183.8" lengthAdjust="spacing" transform="translate(718.4 0) scale(0.84 1) translate(-718.4 0)">Video connector</text>
<path d="M584.10,834.70 L584.10,851.30 L581.80,851.30 L581.80,839.16 L577.90,840.42 L577.90,837.43 L581.60,834.70 Z" stroke="none"/>
<text x="585.9" y="851.0" stroke-width="0.6" transform="translate(585.9 0) scale(0.9 1) translate(-585.9 0)">0</text>
<text x="717.5" y="851.0" textLength="186.4" lengthAdjust="spacing" transform="translate(717.5 0) scale(0.84 1) translate(-717.5 0)">Serial connector</text>
<path d="M584.10,896.40 L584.10,913.00 L581.80,913.00 L581.80,900.86 L577.90,902.12 L577.90,899.13 L581.60,896.40 Z" stroke="none"/>
<path d="M594.80,896.40 L594.80,913.00 L592.50,913.00 L592.50,900.86 L588.70,902.12 L588.70,899.13 L592.30,896.40 Z" stroke="none"/>
<text x="716.6" y="912.7" textLength="304.3" lengthAdjust="spacing" transform="translate(716.6 0) scale(0.84 1) translate(-716.6 0)">External cooling-fan power</text>
<text x="717.5" y="944.7" textLength="109.2" lengthAdjust="spacing" transform="translate(717.5 0) scale(0.84 1) translate(-717.5 0)">cable slot</text>
</g>
</svg>
</body></html>
